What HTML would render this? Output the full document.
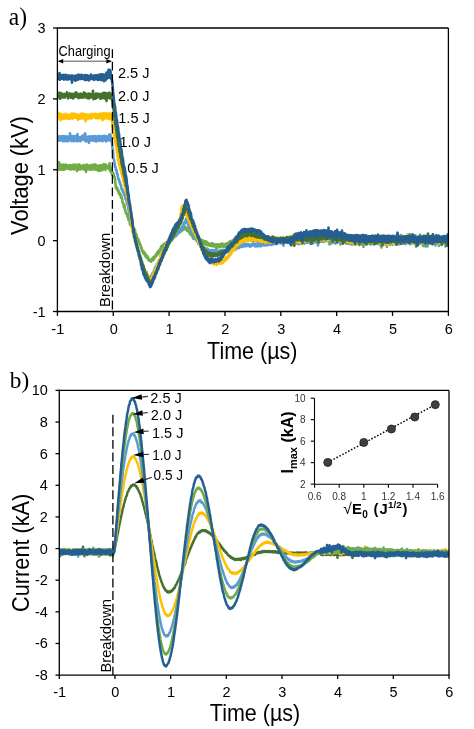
<!DOCTYPE html>
<html><head><meta charset="utf-8"><title>Figure</title>
<style>html,body{margin:0;padding:0;background:#fff;}body{width:474px;height:729px;overflow:hidden;position:relative;font-family:"Liberation Sans", sans-serif;}</style>
</head><body>
<svg width="474" height="729" viewBox="0 0 474 729" style="position:absolute;left:0;top:0;will-change:transform">
<rect width="474" height="729" fill="#fff"/>
<defs><clipPath id="ca"><rect x="57.4" y="28" width="391" height="283.5"/></clipPath>
<clipPath id="cb"><rect x="59.3" y="390.4" width="389.7" height="284.7"/></clipPath></defs>
<g clip-path="url(#ca)" fill="none" stroke-linejoin="round">
<path d="M57.5 164.42 L58 169.8 L58.5 165.08 L59 162.07 L59.5 169.62 L60 169.39 L60.5 164.49 L61 169.32 L61.5 169.69 L62 164.95 L62.5 169.42 L63 169.06 L63.5 164.53 L64 169.76 L64.5 168.9 L65 164.78 L65.5 168.86 L66 164.79 L66.5 168.48 L67 165.33 L67.5 168.77 L68 165.63 L68.5 168.61 L69 165.28 L69.5 168.84 L70 164.98 L70.5 169.59 L71 169.08 L71.5 165.58 L72 168.86 L72.5 167.46 L73 168.66 L73.5 164.61 L74 169.53 L74.5 164.89 L75 168.34 L75.5 165.72 L76 168.42 L76.5 164.83 L77 171.03 L77.5 165.5 L78 169.77 L78.5 164.44 L79 168.37 L79.5 164.65 L80 169.35 L80.5 165.84 L81 169.29 L81.5 165.7 L82 168.42 L82.5 168.76 L83 165.69 L83.5 165.01 L84 169.61 L84.5 165.83 L85 169.17 L85.5 165.15 L86 171.91 L86.5 165.59 L87 164.72 L87.5 169.32 L88 169.34 L88.5 168.66 L89 165.63 L89.5 169.44 L90 165.34 L90.5 169.6 L91 169.63 L91.5 165.78 L92 169.55 L92.5 164.72 L93 168.65 L93.5 164.56 L94 169.48 L94.5 164.89 L95 169.63 L95.5 164.42 L96 168.56 L96.5 165.73 L97 169.76 L97.5 165.51 L98 170.57 L98.5 166.02 L99 166.52 L99.5 171.06 L100 165.3 L100.5 169.88 L101 165.97 L101.5 170.2 L102 165.08 L102.5 170.11 L103 164.7 L103.5 166.17 L104 164.13 L104.5 168.56 L105 164.83 L105.5 169.91 L106 164.49 L106.5 167.13 L107 167.46 L107.5 166.1 L108 168.12 L108.5 168.68 L109 167.38 L109.5 163.27 L110 170.84 L110.5 167.22 L111 171.8 L111.5 171.81 L112 174.84 L112.5 172.08 L113 174.86 L113.5 173.6 L114 177.42 L114.5 176.69 L115 178.83 L115.5 184.1 L116 187.81 L116.5 188.84 L117 187.54 L117.5 188.31 L118 191.46 L118.5 190.45 L119 193.81 L119.5 192.46 L120 195.25 L120.5 194.1 L121 197.83 L121.5 196.25 L122 197.96 L122.5 202.4 L123 202.52 L123.5 204.45 L124 207.59 L124.5 205.36 L125 210.25 L125.5 210.39 L126 213.75 L126.5 212.89 L127 213.69 L127.5 217.06 L128 216.53 L128.5 219.93 L129 220.39 L129.5 219.83 L130 224.74 L130.5 221.83 L131 225.26 L131.5 223.2 L132 226.86 L132.5 225.01 L133 228.77 L133.5 229.45 L134 228.24 L134.5 231.1 L135 229.9 L135.5 233.9 L136 234.64 L136.5 234.24 L137 237.26 L137.5 238.16 L138 240.24 L138.5 239.41 L139 242.5 L139.5 242.17 L140 245.01 L140.5 244.75 L141 247.73 L141.5 247.34 L142 251.1 L142.5 250.09 L143 252.87 L143.5 251.32 L144 254.14 L144.5 252.55 L145 253.38 L145.5 256.51 L146 254.66 L146.5 255.22 L147 258.24 L147.5 256.51 L148 259.29 L148.5 258.13 L149 260.78 L149.5 259.62 L150 260.13 L150.5 260.22 L151 261.68 L151.5 259.41 L152 260.74 L152.5 258.38 L153 260.21 L153.5 257.03 L154 259.3 L154.5 256.48 L155 255.98 L155.5 257.29 L156 254.26 L156.5 255.81 L157 252.68 L157.5 254.45 L158 251.37 L158.5 253.82 L159 250.33 L159.5 251.72 L160 249.24 L160.5 249.77 L161 246.6 L161.5 248.85 L162 245.87 L162.5 245.95 L163 244.96 L163.5 247.26 L164 244.01 L164.5 246.12 L165 245.36 L165.5 242.91 L166 244.83 L166.5 242.63 L167 244.38 L167.5 241.68 L168 243.08 L168.5 242.84 L169 240.2 L169.5 242.17 L170 239.45 L170.5 241.03 L171 238.34 L171.5 240.26 L172 237.65 L172.5 239.26 L173 236.28 L173.5 237.97 L174 235.33 L174.5 234.94 L175 234.47 L175.5 236.48 L176 233.88 L176.5 235.39 L177 235.02 L177.5 232.19 L178 232.13 L178.5 233.19 L179 231.11 L179.5 232.7 L180 230.26 L180.5 231.32 L181 229.26 L181.5 231.18 L182 228.55 L182.5 228.27 L183 229.97 L183.5 226.51 L184 228.18 L184.5 226.37 L185 227.11 L185.5 229.39 L186 229.51 L186.5 227.48 L187 230.82 L187.5 228.59 L188 231.06 L188.5 229.65 L189 232.33 L189.5 231.63 L190 234.24 L190.5 232.11 L191 234.77 L191.5 233.53 L192 236.13 L192.5 235.03 L193 238.55 L193.5 236.02 L194 238.87 L194.5 236.73 L195 238.81 L195.5 239.18 L196 237.5 L196.5 240.09 L197 237.89 L197.5 240.78 L198 238.45 L198.5 240.6 L199 239.01 L199.5 239.01 L200 241.59 L200.5 239.6 L201 242.66 L201.5 239.74 L202 239.9 L202.5 243.44 L203 240.61 L203.5 243.1 L204 240.93 L204.5 244.08 L205 241.5 L205.5 244.72 L206 241.32 L206.5 244.42 L207 242.2 L207.5 245.25 L208 243.04 L208.5 245.49 L209 243.78 L209.5 243.79 L210 245.71 L210.5 243.94 L211 245.81 L211.5 243.43 L212 246.1 L212.5 243.19 L213 246.3 L213.5 244.33 L214 244.6 L214.5 246.43 L215 244.67 L215.5 246.59 L216 244.4 L216.5 249.44 L217 244.37 L217.5 244.95 L218 247.38 L218.5 244.27 L219 246.92 L219.5 244.98 L220 247.22 L220.5 246.3 L221 243.88 L221.5 246.52 L222 245.99 L222.5 243.5 L223 246.62 L223.5 244.72 L224 246.95 L224.5 244.76 L225 244.13 L225.5 246.84 L226 243.68 L226.5 243.6 L227 245.71 L227.5 243.38 L228 245.1 L228.5 245.36 L229 241.97 L229.5 244.24 L230 241.38 L230.5 241.66 L231 241.01 L231.5 243.37 L232 240.82 L232.5 243.06 L233 240.26 L233.5 242.87 L234 239.65 L234.5 241.99 L235 239.8 L235.5 242.19 L236 239.27 L236.5 241.26 L237 238.83 L237.5 240.84 L238 238.96 L238.5 241.04 L239 237.7 L239.5 238.4 L240 240.45 L240.5 235.39 L241 237.62 L241.5 240.49 L242 239.93 L242.5 237.36 L243 240.41 L243.5 238 L244 240.37 L244.5 237.64 L245 239.84 L245.5 239.92 L246 237.46 L246.5 240.28 L247 237.48 L247.5 240.63 L248 238.07 L248.5 240.1 L249 238 L249.5 239.78 L250 239.98 L250.5 237.66 L251 239.99 L251.5 237.57 L252 238.09 L252.5 240.97 L253 238.87 L253.5 240.78 L254 238.22 L254.5 240.52 L255 238.34 L255.5 240.87 L256 237.93 L256.5 240.99 L257 237.84 L257.5 241.11 L258 238.59 L258.5 241.37 L259 238.87 L259.5 237.86 L260 240.18 L260.5 237.86 L261 240.45 L261.5 238.21 L262 240.78 L262.5 238.89 L263 241.13 L263.5 238.62 L264 241.05 L264.5 238.58 L265 241.15 L265.5 238.72 L266 241.04 L266.5 238.65 L267 239.07 L267.5 242.15 L268 239.92 L268.5 240.77 L269 241.29 L269.5 241.44 L270 238.95 L270.5 238.97 L271 241.54 L271.5 238.82 L272 241.63 L272.5 238.96 L273 241.51 L273.5 239.5 L274 241.77 L274.5 239.94 L275 242.99 L275.5 239.83 L276 241.62 L276.5 239.79 L277 242.05 L277.5 239.28 L278 241.72 L278.5 242.49 L279 239.84 L279.5 242.03 L280 239.61 L280.5 242.65 L281 240.06 L281.5 241.94 L282 239.24 L282.5 243.8 L283 237.66 L283.5 242.47 L284 239.81 L284.5 242.42 L285 239.81 L285.5 239.42 L286 241.92 L286.5 239.37 L287 242.19 L287.5 240 L288 242.58 L288.5 242.5 L289 239.63 L289.5 241.57 L290 239.23 L290.5 243.25 L291 238.38 L291.5 242.7 L292 242.09 L292.5 238.74 L293 238.46 L293.5 242.43 L294 237.31 L294.5 245.59 L295 237.4 L295.5 240.99 L296 238.24 L296.5 242.43 L297 238.36 L297.5 242.65 L298 237.97 L298.5 243.26 L299 241.49 L299.5 237.71 L300 242.09 L300.5 237.46 L301 242.34 L301.5 239.86 L302 242.37 L302.5 242.9 L303 238.26 L303.5 241.49 L304 236.74 L304.5 241.88 L305 233.91 L305.5 240.54 L306 239.28 L306.5 241.22 L307 237.93 L307.5 241.48 L308 237.47 L308.5 241.65 L309 233.74 L309.5 240.13 L310 237.74 L310.5 242.39 L311 236.29 L311.5 242.02 L312 242.17 L312.5 237.57 L313 241.43 L313.5 236.52 L314 241.28 L314.5 235.88 L315 241.16 L315.5 235.84 L316 240.91 L316.5 236.49 L317 241.44 L317.5 238.09 L318 241.99 L318.5 242.82 L319 236.35 L319.5 240.48 L320 241 L320.5 241.45 L321 236.56 L321.5 241.09 L322 236.66 L322.5 240.65 L323 235.37 L323.5 240.04 L324 236.56 L324.5 241.39 L325 240.73 L325.5 240.76 L326 236.2 L326.5 240.03 L327 236.39 L327.5 239.69 L328 235.5 L328.5 240.67 L329 235.61 L329.5 244.51 L330 240.32 L330.5 235.72 L331 235.49 L331.5 243.47 L332 236.68 L332.5 236.81 L333 240.33 L333.5 236.42 L334 236.5 L334.5 240.71 L335 236.5 L335.5 241.08 L336 236.54 L336.5 241.72 L337 235.89 L337.5 241.58 L338 237.4 L338.5 241.64 L339 236.59 L339.5 241.61 L340 237.93 L340.5 244.26 L341 235.1 L341.5 239.76 L342 239.91 L342.5 235.24 L343 240.38 L343.5 236.16 L344 240.85 L344.5 236.29 L345 241.63 L345.5 236.12 L346 243.55 L346.5 238 L347 242.47 L347.5 238.71 L348 243.52 L348.5 238.8 L349 239 L349.5 236.14 L350 241.49 L350.5 237.79 L351 237.13 L351.5 244.39 L352 239.44 L352.5 244.33 L353 244.09 L353.5 239.32 L354 238.37 L354.5 242.48 L355 238.39 L355.5 242.13 L356 238.9 L356.5 243.71 L357 237.44 L357.5 242.96 L358 237.88 L358.5 243.49 L359 238.53 L359.5 245.1 L360 237.94 L360.5 243.49 L361 238.41 L361.5 243.58 L362 237.74 L362.5 242.11 L363 237.87 L363.5 246.84 L364 237.73 L364.5 243.96 L365 238.41 L365.5 243.29 L366 237.9 L366.5 242.41 L367 237.9 L367.5 241.08 L368 237.32 L368.5 242.27 L369 236.42 L369.5 243.39 L370 237.05 L370.5 244.45 L371 243.62 L371.5 244.06 L372 238.02 L372.5 242.81 L373 242.39 L373.5 238.75 L374 239.65 L374.5 239.16 L375 242.79 L375.5 243.43 L376 238.39 L376.5 243.1 L377 238.76 L377.5 240.32 L378 238.07 L378.5 243.8 L379 238.24 L379.5 243.58 L380 238.15 L380.5 245.79 L381 238.66 L381.5 247.48 L382 239.68 L382.5 242.17 L383 238.13 L383.5 243.86 L384 242.95 L384.5 238.92 L385 243.14 L385.5 238.08 L386 242.85 L386.5 238.4 L387 244.77 L387.5 236.86 L388 241.32 L388.5 242.63 L389 236.65 L389.5 244.48 L390 236.98 L390.5 244.66 L391 237.05 L391.5 243.18 L392 237.22 L392.5 243.48 L393 238.87 L393.5 243.74 L394 238.2 L394.5 242.28 L395 237.54 L395.5 237.8 L396 243.36 L396.5 243.5 L397 237.64 L397.5 242.49 L398 241.51 L398.5 239.06 L399 244.47 L399.5 239.48 L400 238.94 L400.5 243.36 L401 235.12 L401.5 243.76 L402 235.8 L402.5 243.08 L403 243.32 L403.5 239.29 L404 241.41 L404.5 242.57 L405 238.87 L405.5 243.6 L406 237.96 L406.5 239.3 L407 237.99 L407.5 242.73 L408 234.54 L408.5 242.92 L409 238.46 L409.5 242.04 L410 234.23 L410.5 241.4 L411 237.8 L411.5 242.83 L412 238.01 L412.5 238.84 L413 243.29 L413.5 238.22 L414 239.97 L414.5 235.56 L415 242.85 L415.5 237.88 L416 246.72 L416.5 239.38 L417 243.23 L417.5 239.02 L418 238.94 L418.5 244.16 L419 238.61 L419.5 242.89 L420 234.51 L420.5 241.6 L421 237.89 L421.5 243.21 L422 238.47 L422.5 238.75 L423 245.86 L423.5 238.35 L424 245.9 L424.5 237.97 L425 243.53 L425.5 238.76 L426 242.67 L426.5 246.01 L427 238.51 L427.5 246.48 L428 238.05 L428.5 243.37 L429 238.02 L429.5 238.3 L430 242.94 L430.5 238.82 L431 243.84 L431.5 242.98 L432 238.81 L432.5 243.57 L433 239.35 L433.5 242.47 L434 243.47 L434.5 243.17 L435 243.56 L435.5 239.27 L436 243.64 L436.5 238.82 L437 240.57 L437.5 239.19 L438 243.19 L438.5 237.81 L439 243.56 L439.5 236.8 L440 242.87 L440.5 238.26 L441 242.8 L441.5 242.51 L442 239.26 L442.5 242.48 L443 238.1 L443.5 243.16 L444 238.63 L444.5 242.14 L445 237.95 L445.5 242.89 L446 237.79 L446.5 242.73 L447 239.05 L447.5 243.97 L448 238.93 L448.5 238.32" stroke="#70AD47" stroke-width="2.6"/>
<path d="M57.5 137.36 L58 140.91 L58.5 136.58 L59 140.55 L59.5 136.01 L60 140.58 L60.5 137.44 L61 140.48 L61.5 136.65 L62 140.4 L62.5 136 L63 141.24 L63.5 136.31 L64 136.06 L64.5 140.98 L65 136.76 L65.5 141.15 L66 141.25 L66.5 136.12 L67 140.24 L67.5 137.24 L68 141.27 L68.5 140.96 L69 136.52 L69.5 140.13 L70 133.18 L70.5 139.97 L71 135.67 L71.5 141.14 L72 136.15 L72.5 140.45 L73 137.31 L73.5 141.28 L74 136.1 L74.5 141.09 L75 139.92 L75.5 136.37 L76 140.37 L76.5 137.42 L77 141.34 L77.5 133.96 L78 140.64 L78.5 140.42 L79 140.89 L79.5 140.91 L80 137.23 L80.5 141.28 L81 137.12 L81.5 140.3 L82 136.06 L82.5 139.17 L83 135.61 L83.5 139.15 L84 135.89 L84.5 140.24 L85 133.23 L85.5 135.82 L86 141.34 L86.5 136.46 L87 141.21 L87.5 137.19 L88 141.12 L88.5 136.8 L89 142.83 L89.5 136.36 L90 141.03 L90.5 137.3 L91 136.53 L91.5 139.95 L92 136.41 L92.5 140.59 L93 136.7 L93.5 136.29 L94 140.64 L94.5 136.48 L95 141.13 L95.5 136 L96 140.01 L96.5 141.38 L97 137.04 L97.5 140.69 L98 136.07 L98.5 140.68 L99 136.16 L99.5 140.85 L100 136.25 L100.5 140.19 L101 140.46 L101.5 136.55 L102 136.02 L102.5 141.3 L103 140.54 L103.5 136.09 L104 140.16 L104.5 135.71 L105 140.17 L105.5 136.19 L106 141.49 L106.5 136.23 L107 140.38 L107.5 136.81 L108 140.5 L108.5 138.33 L109 134.85 L109.5 140.28 L110 134.32 L110.5 135.21 L111 140.89 L111.5 140.1 L112 142.68 L112.5 148.14 L113 150.91 L113.5 158.26 L114 159.98 L114.5 162.25 L115 166.89 L115.5 166.56 L116 170.45 L116.5 169.75 L117 174.02 L117.5 173.77 L118 177.46 L118.5 179.34 L119 178.94 L119.5 182.69 L120 182.16 L120.5 185.31 L121 185.31 L121.5 188.76 L122 190.02 L122.5 189.27 L123 192.14 L123.5 191.75 L124 194.74 L124.5 194.19 L125 194.97 L125.5 199.1 L126 198.71 L126.5 200.79 L127 204.33 L127.5 204.34 L128 206.45 L128.5 210.13 L129 210.43 L129.5 215.45 L130 216.07 L130.5 220.79 L131 221.25 L131.5 225.58 L132 225.62 L132.5 230.16 L133 232.42 L133.5 232.61 L134 237.23 L134.5 236.87 L135 241.15 L135.5 240.91 L136 244.72 L136.5 244.82 L137 248.51 L137.5 248.62 L138 252.26 L138.5 251.91 L139 256 L139.5 255.3 L140 259.26 L140.5 258.24 L141 261.53 L141.5 261.24 L142 264.48 L142.5 264.01 L143 267.37 L143.5 266.6 L144 269.69 L144.5 268.71 L145 271.6 L145.5 272.29 L146 273.64 L146.5 271.78 L147 273.2 L147.5 276.21 L148 275.35 L148.5 278.38 L149 276.91 L149.5 279.93 L150 278.18 L150.5 276.52 L151 278.18 L151.5 274.7 L152 275.73 L152.5 272.94 L153 274.15 L153.5 273.39 L154 270.3 L154.5 271.12 L155 267.65 L155.5 269.26 L156 266.15 L156.5 266.96 L157 263.76 L157.5 264.89 L158 263.53 L158.5 262.53 L159 259.49 L159.5 260.31 L160 259.61 L160.5 256.2 L161 255.26 L161.5 255.16 L162 252.53 L162.5 253.56 L163 251.04 L163.5 252.27 L164 249.88 L164.5 250.86 L165 248 L165.5 249.57 L166 246.6 L166.5 247.99 L167 245.5 L167.5 247 L168 243.29 L168.5 244.67 L169 241.24 L169.5 242.99 L170 239.67 L170.5 241.58 L171 238.6 L171.5 238.54 L172 240.08 L172.5 238.85 L173 236.63 L173.5 237.93 L174 234.62 L174.5 234.37 L175 234.02 L175.5 235.62 L176 232.79 L176.5 234.28 L177 231.74 L177.5 233.65 L178 230.94 L178.5 231.6 L179 229.37 L179.5 231.33 L180 229.62 L180.5 231.32 L181 228.54 L181.5 229.92 L182 226.53 L182.5 228.19 L183 227.47 L183.5 223.69 L184 225.33 L184.5 221.78 L185 223.09 L185.5 222.15 L186 218.68 L186.5 222.23 L187 220.95 L187.5 222.03 L188 224.82 L188.5 224.26 L189 227.43 L189.5 225.61 L190 228.41 L190.5 227.72 L191 230.95 L191.5 230 L192 233.3 L192.5 232.02 L193 235.34 L193.5 233.59 L194 235.04 L194.5 238.01 L195 236.98 L195.5 239.18 L196 237.95 L196.5 240.34 L197 239.57 L197.5 241.88 L198 240.85 L198.5 244.07 L199 241.8 L199.5 243.07 L200 245.14 L200.5 243.49 L201 247.2 L201.5 245 L202 247.88 L202.5 246.42 L203 249.52 L203.5 247.34 L204 249.38 L204.5 250.43 L205 247.91 L205.5 250.2 L206 248.72 L206.5 251.32 L207 248.54 L207.5 251.46 L208 249.15 L208.5 252.28 L209 249.95 L209.5 249.98 L210 250.2 L210.5 252.61 L211 250.39 L211.5 253.14 L212 253 L212.5 250 L213 253.09 L213.5 250.24 L214 253.02 L214.5 252.58 L215 252.1 L215.5 249.85 L216 252.57 L216.5 250.02 L217 252.23 L217.5 251.06 L218 254.42 L218.5 251.14 L219 253.44 L219.5 250.88 L220 253.05 L220.5 252.74 L221 250.05 L221.5 252.7 L222 250 L222.5 252.85 L223 250.07 L223.5 249.75 L224 252.28 L224.5 250.32 L225 252.01 L225.5 249.93 L226 249.95 L226.5 251.75 L227 249.45 L227.5 251.92 L228 249.11 L228.5 249.11 L229 251.39 L229.5 251.53 L230 248.88 L230.5 248.46 L231 250.83 L231.5 248.14 L232 250.42 L232.5 248 L233 250.65 L233.5 247.18 L234 249.51 L234.5 246.96 L235 249.85 L235.5 246.89 L236 249.26 L236.5 245.02 L237 247.89 L237.5 245.36 L238 248.07 L238.5 245.66 L239 247.89 L239.5 242.76 L240 247.23 L240.5 247.01 L241 244.9 L241.5 246.78 L242 244.31 L242.5 246.94 L243 246.1 L243.5 243.94 L244 246.1 L244.5 243.63 L245 246.37 L245.5 244.11 L246 246.21 L246.5 243.88 L247 245.95 L247.5 244.11 L248 244.81 L248.5 244.18 L249 245.97 L249.5 244.21 L250 246.64 L250.5 245.79 L251 245.95 L251.5 246.03 L252 245.87 L252.5 243.68 L253 243.38 L253.5 243.49 L254 244.33 L254.5 244.17 L255 246.47 L255.5 244.05 L256 243.98 L256.5 243.83 L257 246.47 L257.5 243.47 L258 245.99 L258.5 243.36 L259 243.18 L259.5 246.22 L260 243.34 L260.5 245.58 L261 246.19 L261.5 243.04 L262 245.42 L262.5 243.18 L263 245.19 L263.5 243.29 L264 243.2 L264.5 245.38 L265 242.93 L265.5 243.19 L266 244.96 L266.5 242.29 L267 245.52 L267.5 242.64 L268 244.98 L268.5 242.45 L269 244.5 L269.5 242.23 L270 244.51 L270.5 242.02 L271 244.96 L271.5 241.9 L272 243.96 L272.5 241.75 L273 244.49 L273.5 241.5 L274 243.85 L274.5 241.7 L275 243.91 L275.5 241.87 L276 244.03 L276.5 241.34 L277 241.4 L277.5 243.27 L278 240.63 L278.5 241.12 L279 243.01 L279.5 240.43 L280 243.22 L280.5 240.96 L281 243.12 L281.5 240.23 L282 243.03 L282.5 241.03 L283 243.41 L283.5 245.64 L284 240.64 L284.5 242.62 L285 240.32 L285.5 242.78 L286 240.53 L286.5 240.47 L287 240.86 L287.5 242.92 L288 240.81 L288.5 242.45 L289 239.87 L289.5 242.68 L290 240.31 L290.5 244.35 L291 238.58 L291.5 243.28 L292 239.48 L292.5 238.2 L293 243.23 L293.5 238.27 L294 238.56 L294.5 242.87 L295 238.63 L295.5 242.56 L296 238.55 L296.5 243.52 L297 238.93 L297.5 243.27 L298 239.09 L298.5 244.1 L299 238.04 L299.5 243.12 L300 237.98 L300.5 243.88 L301 239.47 L301.5 243.47 L302 239.41 L302.5 239.27 L303 242.56 L303.5 238.6 L304 239.28 L304.5 243.76 L305 237.92 L305.5 242.28 L306 240.54 L306.5 242.36 L307 237.85 L307.5 242.92 L308 238.65 L308.5 242.37 L309 238.07 L309.5 241.85 L310 238.46 L310.5 243.95 L311 238.67 L311.5 243.22 L312 238.12 L312.5 243.32 L313 243.29 L313.5 237.78 L314 242.73 L314.5 237.97 L315 242 L315.5 237.25 L316 242.1 L316.5 237.06 L317 242.61 L317.5 240.36 L318 245.4 L318.5 237.34 L319 238.04 L319.5 235.67 L320 241.84 L320.5 240.5 L321 236.22 L321.5 239.03 L322 237.68 L322.5 241.37 L323 242.04 L323.5 237.15 L324 241.61 L324.5 236.84 L325 236.42 L325.5 240.78 L326 235.5 L326.5 237.16 L327 241.09 L327.5 236.3 L328 241.25 L328.5 236.51 L329 239.7 L329.5 236.25 L330 241.44 L330.5 235.86 L331 237.52 L331.5 240.6 L332 237.23 L332.5 242.14 L333 237.47 L333.5 242.44 L334 242.91 L334.5 240.27 L335 242.11 L335.5 243.6 L336 236.73 L336.5 241.26 L337 237.77 L337.5 242.4 L338 237.86 L338.5 242.26 L339 236.88 L339.5 241.81 L340 237.61 L340.5 244.09 L341 237.03 L341.5 242.1 L342 237.94 L342.5 242.37 L343 237.53 L343.5 238.2 L344 242.23 L344.5 238.61 L345 242.34 L345.5 238.23 L346 242.19 L346.5 238.52 L347 242.1 L347.5 243.24 L348 238.25 L348.5 243.68 L349 237.58 L349.5 238.27 L350 243.94 L350.5 243.04 L351 238.67 L351.5 243.21 L352 239.55 L352.5 242.87 L353 237.97 L353.5 238.48 L354 243.99 L354.5 238.54 L355 238.21 L355.5 244.81 L356 239.48 L356.5 244.04 L357 243.77 L357.5 239.17 L358 243.57 L358.5 238.08 L359 243.95 L359.5 238.17 L360 243.2 L360.5 241.08 L361 244.61 L361.5 239.57 L362 238.22 L362.5 244.27 L363 239.03 L363.5 242.79 L364 238.11 L364.5 242.78 L365 239.42 L365.5 244 L366 240.14 L366.5 242.74 L367 238.04 L367.5 238.23 L368 243.46 L368.5 240.52 L369 237.86 L369.5 243.8 L370 238.46 L370.5 243.22 L371 243.26 L371.5 238.42 L372 243.88 L372.5 238.46 L373 239.96 L373.5 239.31 L374 244.71 L374.5 239.14 L375 238.19 L375.5 243.14 L376 239.25 L376.5 242.8 L377 243.61 L377.5 240.12 L378 244.05 L378.5 240.05 L379 239.12 L379.5 238.55 L380 241.32 L380.5 239.42 L381 244.19 L381.5 238.2 L382 243.9 L382.5 239.24 L383 243.03 L383.5 242.65 L384 239.13 L384.5 244.59 L385 239.7 L385.5 244.19 L386 240.51 L386.5 239.39 L387 246.94 L387.5 240.04 L388 242.38 L388.5 243.71 L389 241.32 L389.5 243.92 L390 237.96 L390.5 238.63 L391 242.87 L391.5 238.7 L392 239.54 L392.5 239.48 L393 244.76 L393.5 237.85 L394 238.15 L394.5 241.97 L395 237.61 L395.5 241.53 L396 238.93 L396.5 243.85 L397 243.93 L397.5 242.91 L398 238.04 L398.5 243.64 L399 238.97 L399.5 238.92 L400 243 L400.5 239.2 L401 236.26 L401.5 243.48 L402 239.19 L402.5 237.98 L403 242.88 L403.5 239.33 L404 243.76 L404.5 238.52 L405 243.52 L405.5 244.08 L406 238.44 L406.5 242.85 L407 238.05 L407.5 242.98 L408 239.09 L408.5 241.85 L409 238.87 L409.5 238.76 L410 244.13 L410.5 236.61 L411 243.9 L411.5 243.09 L412 237.89 L412.5 242.63 L413 238.85 L413.5 242.7 L414 242.78 L414.5 238.63 L415 243.37 L415.5 235.32 L416 243.12 L416.5 239.16 L417 243.5 L417.5 237.8 L418 245.42 L418.5 236.77 L419 238.84 L419.5 242.61 L420 239.03 L420.5 243.76 L421 238.75 L421.5 243.34 L422 242.69 L422.5 242.58 L423 238.35 L423.5 242.75 L424 237.73 L424.5 244.16 L425 240.06 L425.5 246.4 L426 238.81 L426.5 245.17 L427 243.88 L427.5 239.35 L428 244.19 L428.5 240.95 L429 243.57 L429.5 239.36 L430 238.56 L430.5 242.64 L431 238.93 L431.5 242.58 L432 239.47 L432.5 242.81 L433 243.06 L433.5 238.82 L434 239.95 L434.5 238.7 L435 239.05 L435.5 245.35 L436 235.03 L436.5 243.22 L437 239.42 L437.5 241.28 L438 239.83 L438.5 243.53 L439 246.01 L439.5 236.47 L440 244.33 L440.5 240.11 L441 242.04 L441.5 244.98 L442 239.35 L442.5 242.67 L443 238.52 L443.5 243.68 L444 239.01 L444.5 242.59 L445 241.77 L445.5 246.51 L446 243.78 L446.5 238.69 L447 243.88 L447.5 238.52 L448 244.58 L448.5 243.3" stroke="#5B9BD5" stroke-width="2.6"/>
<path d="M57.5 113.36 L58 117.96 L58.5 112.81 L59 117.74 L59.5 118.29 L60 114.99 L60.5 120.17 L61 113.78 L61.5 114.5 L62 118.9 L62.5 114.88 L63 117.96 L63.5 114.56 L64 118.86 L64.5 118.79 L65 114.84 L65.5 113.74 L66 117.83 L66.5 114.66 L67 118.7 L67.5 114.65 L68 115.02 L68.5 118.58 L69 118.97 L69.5 117.97 L70 115.04 L70.5 118.42 L71 113.8 L71.5 113.75 L72 118.29 L72.5 114.25 L73 118.58 L73.5 113.63 L74 117.53 L74.5 115.06 L75 117.6 L75.5 114.08 L76 115.68 L76.5 114.54 L77 118.41 L77.5 114.72 L78 119.76 L78.5 115.14 L79 118.8 L79.5 115.74 L80 118.72 L80.5 113.98 L81 117.92 L81.5 113.66 L82 118.37 L82.5 113.86 L83 118.39 L83.5 113.82 L84 117.95 L84.5 114.47 L85 118.27 L85.5 121.34 L86 114.31 L86.5 117.85 L87 114.66 L87.5 118.86 L88 118.85 L88.5 115.07 L89 117.96 L89.5 114.47 L90 118.02 L90.5 114.56 L91 118.73 L91.5 113.72 L92 117.53 L92.5 117.59 L93 114.3 L93.5 116.01 L94 115.01 L94.5 116.95 L95 113.71 L95.5 118.18 L96 114.28 L96.5 118.2 L97 114.14 L97.5 115.01 L98 117.98 L98.5 115.06 L99 118.39 L99.5 117.38 L100 113.47 L100.5 117.96 L101 113.69 L101.5 117.92 L102 114.61 L102.5 120.26 L103 113.38 L103.5 118.93 L104 118.76 L104.5 113.51 L105 117.93 L105.5 117.85 L106 113.4 L106.5 118.18 L107 114.16 L107.5 117.89 L108 118.47 L108.5 113.64 L109 118.65 L109.5 113.28 L110 119.06 L110.5 114.08 L111 118.9 L111.5 119.82 L112 118.22 L112.5 125.59 L113 127.7 L113.5 132.99 L114 133.35 L114.5 139.02 L115 138.12 L115.5 143.39 L116 144.42 L116.5 147.9 L117 152.73 L117.5 154.24 L118 160.03 L118.5 159.76 L119 164.15 L119.5 163.92 L120 167.6 L120.5 169.62 L121 169.6 L121.5 173.78 L122 172.8 L122.5 177.42 L123 176.97 L123.5 181.65 L124 181.72 L124.5 185.91 L125 186.37 L125.5 187.9 L126 191.96 L126.5 191.85 L127 195.73 L127.5 196.56 L128 201.76 L128.5 202.17 L129 206.68 L129.5 207.1 L130 211.86 L130.5 213.84 L131 220.22 L131.5 222.88 L132 229.39 L132.5 229.16 L133 233.55 L133.5 232.74 L134 237.21 L134.5 236.52 L135 241.27 L135.5 239.01 L136 244.72 L136.5 244.35 L137 248.91 L137.5 248 L138 252.19 L138.5 251.99 L139 256.98 L139.5 258.27 L140 257.06 L140.5 258.76 L141 261.34 L141.5 260.91 L142 264.42 L142.5 263.74 L143 267.02 L143.5 266.49 L144 269.68 L144.5 269.29 L145 272.01 L145.5 271.44 L146 274.15 L146.5 273.72 L147 276.51 L147.5 275.11 L148 278.73 L148.5 277.79 L149 281.11 L149.5 279.86 L150 282.88 L150.5 279.72 L151 281.07 L151.5 278.07 L152 277.9 L152.5 274.57 L153 275.97 L153.5 272.83 L154 272.51 L154.5 273.38 L155 270.16 L155.5 269.09 L156 269.83 L156.5 266.71 L157 267.85 L157.5 263.82 L158 265.3 L158.5 261.5 L159 262.67 L159.5 259.07 L160 260.39 L160.5 256.43 L161 257.43 L161.5 254.4 L162 252.55 L162.5 252.23 L163 251.66 L163.5 252.66 L164 249.26 L164.5 248.84 L165 248.76 L165.5 245.1 L166 246.57 L166.5 243.04 L167 245.06 L167.5 242.04 L168 243.13 L168.5 239.79 L169 240.96 L169.5 237.97 L170 238.26 L170.5 235.51 L171 234.75 L171.5 235.91 L172 235.13 L172.5 231.96 L173 233.6 L173.5 230.66 L174 231.49 L174.5 229.16 L175 230.32 L175.5 229.63 L176 226.47 L176.5 228.25 L177 224.34 L177.5 225.5 L178 222.72 L178.5 223.19 L179 219.94 L179.5 218.8 L180 221.73 L180.5 214.78 L181 214 L181.5 209.17 L182 206.01 L182.5 206.98 L183 205.8 L183.5 207.88 L184 207.99 L184.5 209.36 L185 213.1 L185.5 211.76 L186 215.01 L186.5 213.66 L187 215.2 L187.5 218.01 L188 216.56 L188.5 220.15 L189 219.09 L189.5 222.11 L190 223.72 L190.5 221.94 L191 225.86 L191.5 224.17 L192 228.37 L192.5 229.56 L193 228.35 L193.5 231.48 L194 232.45 L194.5 233.36 L195 232.58 L195.5 235.3 L196 234.54 L196.5 237.7 L197 236.87 L197.5 239.7 L198 239.15 L198.5 242.02 L199 241.63 L199.5 245.05 L200 244.01 L200.5 247.28 L201 245.64 L201.5 249.66 L202 248.45 L202.5 251.15 L203 252.96 L203.5 253.75 L204 252.05 L204.5 251.29 L205 253.79 L205.5 256.85 L206 255.9 L206.5 258.84 L207 257.3 L207.5 257.56 L208 261.03 L208.5 257.92 L209 261 L209.5 258.97 L210 261.6 L210.5 259.79 L211 262.27 L211.5 260.67 L212 262.94 L212.5 260.8 L213 263.86 L213.5 264.27 L214 262.06 L214.5 264.23 L215 261.34 L215.5 263.77 L216 261.87 L216.5 264.98 L217 261.78 L217.5 264.03 L218 261.02 L218.5 263.55 L219 260.46 L219.5 260.93 L220 263.35 L220.5 261.36 L221 263.73 L221.5 260.7 L222 263.25 L222.5 260.59 L223 262.7 L223.5 259.56 L224 261.63 L224.5 258.61 L225 260.56 L225.5 257.64 L226 260.11 L226.5 257.02 L227 258.7 L227.5 256.36 L228 258 L228.5 254.87 L229 256.6 L229.5 254.12 L230 255.21 L230.5 252.64 L231 254.4 L231.5 250.78 L232 252.55 L232.5 249.55 L233 251.05 L233.5 248.21 L234 249.97 L234.5 246.59 L235 248.95 L235.5 245.6 L236 246.63 L236.5 244.02 L237 245.82 L237.5 245.71 L238 245.23 L238.5 241.78 L239 243.76 L239.5 240.86 L240 242.89 L240.5 240.53 L241 243.16 L241.5 240.37 L242 242.14 L242.5 239.14 L243 241.21 L243.5 238.95 L244 241.03 L244.5 238.47 L245 240.83 L245.5 238.71 L246 238.86 L246.5 238.63 L247 240.56 L247.5 237.93 L248 238.41 L248.5 240.84 L249 238.46 L249.5 238.55 L250 240.18 L250.5 237.93 L251 240.69 L251.5 240.39 L252 237.59 L252.5 240.24 L253 237.64 L253.5 239.97 L254 238.23 L254.5 240.29 L255 237.61 L255.5 240.63 L256 238.1 L256.5 240.38 L257 238.59 L257.5 238.02 L258 238.99 L258.5 238.78 L259 241 L259.5 240.56 L260 241.6 L260.5 240.96 L261 238.58 L261.5 241.44 L262 241.92 L262.5 239.31 L263 241.71 L263.5 239.72 L264 240.28 L264.5 239.93 L265 242.46 L265.5 240.16 L266 240.79 L266.5 242.44 L267 239.65 L267.5 242.24 L268 240.17 L268.5 239.84 L269 242.13 L269.5 240.21 L270 242.01 L270.5 239.9 L271 242.66 L271.5 239.92 L272 242.31 L272.5 238.78 L273 241.56 L273.5 238.87 L274 239.87 L274.5 242.59 L275 239.85 L275.5 242.14 L276 239.71 L276.5 241.82 L277 240.21 L277.5 242.66 L278 240.13 L278.5 242.62 L279 239.84 L279.5 242.41 L280 239.65 L280.5 242.28 L281 239.72 L281.5 241.95 L282 242.08 L282.5 239.71 L283 241.96 L283.5 239.63 L284 241.9 L284.5 239.5 L285 242.09 L285.5 239.65 L286 242 L286.5 239.69 L287 242.19 L287.5 241.54 L288 239.08 L288.5 239.31 L289 241.27 L289.5 239.96 L290 242.17 L290.5 239.25 L291 243.08 L291.5 237.77 L292 245.27 L292.5 238.27 L293 242.17 L293.5 234.18 L294 242.18 L294.5 239.35 L295 242.2 L295.5 238.27 L296 238.69 L296.5 237.89 L297 241.94 L297.5 237.71 L298 242.18 L298.5 242.12 L299 237.27 L299.5 242.72 L300 240.94 L300.5 235.94 L301 241.29 L301.5 236.87 L302 243.85 L302.5 236.68 L303 242.38 L303.5 239.23 L304 240.62 L304.5 235.95 L305 241.6 L305.5 235.5 L306 234.9 L306.5 235.67 L307 234.99 L307.5 239.15 L308 238.29 L308.5 239.68 L309 236.99 L309.5 238.84 L310 237.59 L310.5 237.75 L311 235.82 L311.5 241.05 L312 235.96 L312.5 240.42 L313 235.55 L313.5 241.16 L314 236.61 L314.5 240.69 L315 236.42 L315.5 234.87 L316 235.88 L316.5 239.75 L317 239.72 L317.5 235.17 L318 239.88 L318.5 234.32 L319 233.74 L319.5 233.7 L320 239.57 L320.5 235.04 L321 240.05 L321.5 235.59 L322 239.64 L322.5 234.93 L323 240.63 L323.5 235.5 L324 240.29 L324.5 233.89 L325 239.1 L325.5 233.85 L326 238.73 L326.5 235.49 L327 236.46 L327.5 240.79 L328 236.67 L328.5 239.64 L329 234.19 L329.5 233.01 L330 236.54 L330.5 235.02 L331 239.6 L331.5 235.05 L332 235.83 L332.5 240.18 L333 234.62 L333.5 234.59 L334 239.72 L334.5 234.94 L335 240.59 L335.5 236.16 L336 235.5 L336.5 240.46 L337 239.5 L337.5 236.46 L338 236.29 L338.5 241.07 L339 240.9 L339.5 234.18 L340 240.52 L340.5 235.93 L341 241.49 L341.5 236.3 L342 237.42 L342.5 240.88 L343 241.63 L343.5 236.72 L344 240.54 L344.5 237.43 L345 240.61 L345.5 237.18 L346 236.63 L346.5 241.95 L347 237.6 L347.5 240.79 L348 236.56 L348.5 241.14 L349 236.49 L349.5 242.3 L350 237.26 L350.5 242.84 L351 238.17 L351.5 240.39 L352 237.26 L352.5 242.75 L353 237.85 L353.5 238.43 L354 244.82 L354.5 235.21 L355 242.98 L355.5 238.21 L356 243 L356.5 238.07 L357 239.97 L357.5 242.13 L358 240.86 L358.5 242.94 L359 238.4 L359.5 237.3 L360 244.73 L360.5 238.24 L361 238.54 L361.5 238.46 L362 241.61 L362.5 237.12 L363 237.04 L363.5 241.77 L364 236.31 L364.5 242.29 L365 236.96 L365.5 241.82 L366 237.06 L366.5 239.58 L367 238.33 L367.5 238.41 L368 242.44 L368.5 238.31 L369 237.66 L369.5 238.3 L370 243 L370.5 236.93 L371 242.67 L371.5 239.64 L372 239.58 L372.5 239.08 L373 243.33 L373.5 238.33 L374 242.4 L374.5 238.33 L375 241.75 L375.5 237.49 L376 242.15 L376.5 237.08 L377 238.38 L377.5 241.83 L378 237.75 L378.5 242.14 L379 242.8 L379.5 238.22 L380 243.04 L380.5 239.68 L381 243.52 L381.5 238.22 L382 243.69 L382.5 239.3 L383 242.05 L383.5 235.2 L384 245.17 L384.5 242.96 L385 237.84 L385.5 241.99 L386 237.68 L386.5 241.66 L387 238.14 L387.5 244.92 L388 239.7 L388.5 238.58 L389 242.49 L389.5 238.13 L390 243.38 L390.5 242.48 L391 237.01 L391.5 241.34 L392 238.3 L392.5 243.68 L393 239.66 L393.5 244 L394 241.1 L394.5 239.59 L395 244.12 L395.5 238.71 L396 243.01 L396.5 238.32 L397 242.23 L397.5 237.42 L398 242.81 L398.5 238.16 L399 237.2 L399.5 242.32 L400 241.21 L400.5 237.89 L401 238.18 L401.5 240.06 L402 237.89 L402.5 242.26 L403 237.29 L403.5 241.77 L404 236.46 L404.5 242.05 L405 241.94 L405.5 242.18 L406 237.46 L406.5 241.94 L407 235.03 L407.5 242.15 L408 238.07 L408.5 237.67 L409 241.93 L409.5 237.75 L410 241.95 L410.5 242.94 L411 243 L411.5 242.59 L412 237.93 L412.5 243.46 L413 237.35 L413.5 242 L414 238.69 L414.5 242.2 L415 237.89 L415.5 243.07 L416 238.62 L416.5 242.7 L417 238.21 L417.5 238.8 L418 242.65 L418.5 238.26 L419 237.34 L419.5 243.47 L420 238.64 L420.5 242.91 L421 238.95 L421.5 239.15 L422 243.52 L422.5 238.05 L423 241.94 L423.5 241.99 L424 237.18 L424.5 242.19 L425 243.24 L425.5 237.57 L426 242.33 L426.5 240.67 L427 242.47 L427.5 237.94 L428 239.49 L428.5 237.37 L429 243.24 L429.5 239.9 L430 243.27 L430.5 237.96 L431 242.92 L431.5 237.28 L432 243.43 L432.5 234.81 L433 242.04 L433.5 238.15 L434 238.35 L434.5 242.45 L435 238.09 L435.5 242.68 L436 242.53 L436.5 237.67 L437 238.54 L437.5 242.31 L438 238.53 L438.5 243.58 L439 238.12 L439.5 243.5 L440 238.19 L440.5 243.26 L441 242.29 L441.5 239.94 L442 242.97 L442.5 238.61 L443 243.41 L443.5 238.54 L444 243.58 L444.5 238.54 L445 242.99 L445.5 238.87 L446 243.07 L446.5 239.87 L447 243.62 L447.5 239.57 L448 242.94 L448.5 238.58" stroke="#FFC000" stroke-width="2.6"/>
<path d="M57.5 96.35 L58 96.54 L58.5 93.53 L59 97.59 L59.5 92.6 L60 98.81 L60.5 94.68 L61 97.46 L61.5 93.27 L62 97.63 L62.5 94.35 L63 97.08 L63.5 94.17 L64 97.52 L64.5 93.97 L65 97.43 L65.5 94.11 L66 94.44 L66.5 95.9 L67 92.37 L67.5 93.76 L68 98.42 L68.5 94.15 L69 97.22 L69.5 95.32 L70 93.39 L70.5 97.67 L71 97.18 L71.5 93.7 L72 97.83 L72.5 94.53 L73 98.5 L73.5 93.73 L74 97.54 L74.5 93.74 L75 96.6 L75.5 96.68 L76 92.36 L76.5 92.72 L77 96.85 L77.5 94.15 L78 94.12 L78.5 98.21 L79 94 L79.5 94.17 L80 97.6 L80.5 94.18 L81 93.56 L81.5 97.61 L82 94.27 L82.5 97.4 L83 94.02 L83.5 97.43 L84 92.43 L84.5 97.25 L85 94.52 L85.5 93.24 L86 97.13 L86.5 94.28 L87 98.14 L87.5 94.47 L88 97.56 L88.5 93.65 L89 98.4 L89.5 93.76 L90 98.06 L90.5 97.4 L91 94.33 L91.5 97.18 L92 93.8 L92.5 97.45 L93 90.89 L93.5 99.21 L94 94.47 L94.5 98.7 L95 94.74 L95.5 98.74 L96 93.58 L96.5 97.97 L97 94.03 L97.5 93.69 L98 97.15 L98.5 94.44 L99 94.47 L99.5 94.06 L100 93.97 L100.5 98.74 L101 97.66 L101.5 93.71 L102 98.17 L102.5 93.47 L103 98.01 L103.5 92.78 L104 95.01 L104.5 98.35 L105 92.76 L105.5 98.37 L106 94.24 L106.5 101.05 L107 93.4 L107.5 98.16 L108 94.3 L108.5 97.35 L109 92.79 L109.5 92.81 L110 98.46 L110.5 93.48 L111 97.61 L111.5 95.87 L112 99.24 L112.5 101.26 L113 106.81 L113.5 108.02 L114 116.27 L114.5 117.31 L115 123.87 L115.5 125.49 L116 129.07 L116.5 131.83 L117 136.89 L117.5 138.07 L118 142.95 L118.5 146.41 L119 146.75 L119.5 152.49 L120 152.74 L120.5 157.84 L121 158.58 L121.5 163.91 L122 164.18 L122.5 167.46 L123 168.86 L123.5 173.1 L124 175.77 L124.5 175.92 L125 180.62 L125.5 181.49 L126 186.18 L126.5 186.43 L127 189.56 L127.5 194.19 L128 194.82 L128.5 200.18 L129 203.32 L129.5 204.15 L130 208.04 L130.5 209.63 L131 213.08 L131.5 218.76 L132 219.84 L132.5 225.31 L133 226.63 L133.5 232.15 L134 232.51 L134.5 237.36 L135 236.32 L135.5 241.07 L136 240.81 L136.5 244.62 L137 244.03 L137.5 248.1 L138 248.05 L138.5 252.06 L139 251.55 L139.5 256.07 L140 255.33 L140.5 258.46 L141 258.33 L141.5 261.97 L142 261.71 L142.5 265.36 L143 264.75 L143.5 266.18 L144 269.66 L144.5 269.25 L145 273.04 L145.5 272.47 L146 275.4 L146.5 274.31 L147 275.28 L147.5 279.03 L148 277.7 L148.5 281.05 L149 279.96 L149.5 283.99 L150 282.37 L150.5 286.12 L151 282.78 L151.5 283.76 L152 280.07 L152.5 282.48 L153 278.49 L153.5 277.17 L154 278.36 L154.5 277.97 L155 273.89 L155.5 274.28 L156 271.58 L156.5 272.62 L157 271.1 L157.5 268.05 L158 268.86 L158.5 265.79 L159 266.65 L159.5 263.11 L160 264.48 L160.5 261.14 L161 259.78 L161.5 260.67 L162 259.14 L162.5 256.05 L163 257.38 L163.5 254.06 L164 254.69 L164.5 253.72 L165 250.26 L165.5 251.47 L166 248.36 L166.5 249.96 L167 246.47 L167.5 247.37 L168 245.64 L168.5 242.94 L169 243.69 L169.5 242.5 L170 240.15 L170.5 240.86 L171 237.87 L171.5 239.48 L172 235.9 L172.5 235.06 L173 236.77 L173.5 233.4 L174 234.62 L174.5 233.94 L175 231.01 L175.5 229.95 L176 231.37 L176.5 229.88 L177 227.34 L177.5 228.39 L178 225.53 L178.5 227.33 L179 226.49 L179.5 223.1 L180 222.31 L180.5 223.99 L181 222.31 L181.5 221.37 L182 218.05 L182.5 218.83 L183 215.23 L183.5 215.57 L184 212.19 L184.5 212.96 L185 209.11 L185.5 209.8 L186 205.75 L186.5 208.89 L187 210.06 L187.5 209.24 L188 212.64 L188.5 211.57 L189 215.95 L189.5 215.18 L190 218.74 L190.5 219.7 L191 219.1 L191.5 220.56 L192 223.65 L192.5 222.63 L193 226.18 L193.5 227.32 L194 226.66 L194.5 229.71 L195 228.49 L195.5 232.16 L196 232.88 L196.5 232.59 L197 233.64 L197.5 237.28 L198 235.69 L198.5 238.95 L199 237.25 L199.5 240.99 L200 240.66 L200.5 243.41 L201 242.42 L201.5 246.08 L202 244.78 L202.5 249.83 L203 246.88 L203.5 249.95 L204 248 L204.5 250.82 L205 249.6 L205.5 252.6 L206 250.59 L206.5 253.08 L207 251.64 L207.5 254.51 L208 253.11 L208.5 255.69 L209 252.62 L209.5 255.09 L210 252.76 L210.5 255.85 L211 253.35 L211.5 253.67 L212 256.18 L212.5 253.67 L213 256.13 L213.5 256.22 L214 253.32 L214.5 255.6 L215 253.75 L215.5 256.1 L216 253.7 L216.5 253.79 L217 255.75 L217.5 255.36 L218 253.22 L218.5 255.42 L219 252.5 L219.5 254.73 L220 251.89 L220.5 254.78 L221 251.78 L221.5 254.27 L222 254.4 L222.5 251.19 L223 253.52 L223.5 253.69 L224 253 L224.5 250.7 L225 252.79 L225.5 250.39 L226 251.96 L226.5 249.57 L227 251.6 L227.5 247.47 L228 247 L228.5 246.86 L229 249.17 L229.5 245.75 L230 247.9 L230.5 244.68 L231 246.95 L231.5 244.38 L232 246.55 L232.5 244.07 L233 245.93 L233.5 243.04 L234 242.07 L234.5 241.69 L235 243.02 L235.5 240.63 L236 242 L236.5 239.25 L237 242.34 L237.5 238.18 L238 240.52 L238.5 237.29 L239 239.07 L239.5 236.12 L240 238.7 L240.5 236.06 L241 237.97 L241.5 235.59 L242 237.71 L242.5 234.26 L243 237.09 L243.5 233.69 L244 233.74 L244.5 236.09 L245 233.38 L245.5 233.9 L246 235.63 L246.5 232.82 L247 236.12 L247.5 233.65 L248 235.82 L248.5 233.23 L249 233.07 L249.5 233.76 L250 232.3 L250.5 235.33 L251 233.46 L251.5 235.93 L252 232.87 L252.5 235.66 L253 233.85 L253.5 235.96 L254 235.64 L254.5 233.99 L255 236.83 L255.5 234.24 L256 236.56 L256.5 234.16 L257 237.35 L257.5 234.52 L258 234.55 L258.5 234.95 L259 237.7 L259.5 234.87 L260 237.38 L260.5 235.55 L261 238.03 L261.5 236.04 L262 237.99 L262.5 235.75 L263 236.82 L263.5 238.41 L264 237.05 L264.5 239.45 L265 236.87 L265.5 239.41 L266 238.92 L266.5 238.75 L267 239.13 L267.5 236.34 L268 239.62 L268.5 236.43 L269 239.06 L269.5 237.1 L270 240.33 L270.5 238.05 L271 240.57 L271.5 238.84 L272 239.45 L272.5 236.47 L273 239.47 L273.5 239.97 L274 237.17 L274.5 240.14 L275 237.98 L275.5 237.84 L276 240.93 L276.5 238.31 L277 240.45 L277.5 237.89 L278 241.36 L278.5 241.01 L279 238.98 L279.5 241.44 L280 238.3 L280.5 237.53 L281 240.86 L281.5 239.03 L282 238.48 L282.5 238.15 L283 240.5 L283.5 238.35 L284 241.28 L284.5 238.55 L285 241.12 L285.5 237.76 L286 239.78 L286.5 237.38 L287 239.74 L287.5 237 L288 239.97 L288.5 237.49 L289 239.98 L289.5 237.47 L290 240.56 L290.5 236.49 L291 240.37 L291.5 239.56 L292 242.76 L292.5 237.4 L293 241.93 L293.5 236.73 L294 245.37 L294.5 235 L295 237.03 L295.5 235.6 L296 235.71 L296.5 240.02 L297 236.65 L297.5 240.73 L298 239.79 L298.5 236.44 L299 239.75 L299.5 236.52 L300 239.56 L300.5 240.35 L301 235.65 L301.5 240.92 L302 235.58 L302.5 243.16 L303 235.75 L303.5 239.48 L304 234.81 L304.5 239.38 L305 235.68 L305.5 240.72 L306 236.39 L306.5 240.58 L307 240.7 L307.5 234.43 L308 239.9 L308.5 234.67 L309 240.34 L309.5 235.49 L310 239.87 L310.5 239.71 L311 234.18 L311.5 243.57 L312 235.22 L312.5 240.81 L313 234.22 L313.5 238.04 L314 234.53 L314.5 240.45 L315 238.89 L315.5 239.52 L316 238.53 L316.5 239.43 L317 235.07 L317.5 239.04 L318 233.89 L318.5 242.16 L319 233.67 L319.5 239.72 L320 233.82 L320.5 238.29 L321 234.27 L321.5 239.39 L322 233.67 L322.5 239.14 L323 237.6 L323.5 238.36 L324 234.57 L324.5 238.14 L325 233.85 L325.5 239.24 L326 233.13 L326.5 234.39 L327 239.01 L327.5 233.94 L328 234.54 L328.5 233.37 L329 238.38 L329.5 233.16 L330 238.53 L330.5 235.89 L331 237.68 L331.5 233.21 L332 240.06 L332.5 234.78 L333 241.51 L333.5 239.39 L334 235.08 L334.5 236.68 L335 231.51 L335.5 239.58 L336 234.43 L336.5 235.08 L337 242.11 L337.5 234.42 L338 236.47 L338.5 235.38 L339 240.11 L339.5 235.62 L340 235.86 L340.5 235.93 L341 240.59 L341.5 236.13 L342 239.5 L342.5 236.33 L343 243.62 L343.5 236.23 L344 239.87 L344.5 236.14 L345 241.46 L345.5 236.62 L346 240.23 L346.5 237.11 L347 239.58 L347.5 235.68 L348 239.95 L348.5 236.04 L349 235.4 L349.5 240.64 L350 235.39 L350.5 240.55 L351 235.64 L351.5 241.05 L352 235.59 L352.5 240.03 L353 238.99 L353.5 237.4 L354 241.96 L354.5 237.43 L355 243.56 L355.5 237.82 L356 241.65 L356.5 237.47 L357 241.24 L357.5 237.61 L358 241.53 L358.5 236.81 L359 237.52 L359.5 244.28 L360 240.99 L360.5 237.1 L361 236.49 L361.5 241.65 L362 242.12 L362.5 236.36 L363 241.24 L363.5 236.59 L364 242.1 L364.5 238.58 L365 242.26 L365.5 237.79 L366 239.61 L366.5 244.55 L367 237.96 L367.5 242.25 L368 237.95 L368.5 241.19 L369 237.9 L369.5 241.94 L370 236.65 L370.5 242.61 L371 237.16 L371.5 241.58 L372 237.6 L372.5 242.11 L373 237.43 L373.5 242.49 L374 238.28 L374.5 243.69 L375 238.99 L375.5 243.7 L376 238.67 L376.5 242.22 L377 236.43 L377.5 242.73 L378 234.57 L378.5 236.44 L379 241.71 L379.5 237.81 L380 239.41 L380.5 237.27 L381 242.39 L381.5 237.95 L382 237.88 L382.5 245.19 L383 236.95 L383.5 241.27 L384 241.78 L384.5 237.79 L385 242.44 L385.5 237.78 L386 242.66 L386.5 236.92 L387 242.82 L387.5 237.78 L388 241.85 L388.5 242.7 L389 241.93 L389.5 239.12 L390 241.18 L390.5 237 L391 241.98 L391.5 242.39 L392 237.95 L392.5 241.21 L393 241.23 L393.5 237.75 L394 241.91 L394.5 237.41 L395 242.05 L395.5 241.7 L396 237.84 L396.5 241.49 L397 237.61 L397.5 242.21 L398 236.6 L398.5 242.47 L399 238.21 L399.5 242.25 L400 240.95 L400.5 243.13 L401 243.76 L401.5 241.6 L402 241.85 L402.5 237.28 L403 237.57 L403.5 242.06 L404 236.79 L404.5 242.71 L405 236.88 L405.5 239.44 L406 236.68 L406.5 241.23 L407 236.7 L407.5 241.54 L408 240.92 L408.5 242.89 L409 237.15 L409.5 242.72 L410 236.75 L410.5 242.75 L411 237.16 L411.5 241.72 L412 236.86 L412.5 241.45 L413 237.4 L413.5 241.67 L414 237.34 L414.5 242.76 L415 236.91 L415.5 241.77 L416 241.41 L416.5 237.79 L417 237.19 L417.5 242.58 L418 237.83 L418.5 241.49 L419 238.15 L419.5 241.64 L420 238.4 L420.5 242.37 L421 236.77 L421.5 241.88 L422 238.22 L422.5 242.45 L423 237.07 L423.5 241.63 L424 238.23 L424.5 236.74 L425 237.78 L425.5 243.07 L426 237.54 L426.5 241.77 L427 238.33 L427.5 237.99 L428 233.48 L428.5 243.09 L429 238.3 L429.5 241.95 L430 237.2 L430.5 241.69 L431 237.72 L431.5 238.22 L432 237.61 L432.5 241.65 L433 236.82 L433.5 242.91 L434 237.69 L434.5 241.72 L435 241.51 L435.5 237.2 L436 242.08 L436.5 235.48 L437 242.45 L437.5 236.76 L438 237.13 L438.5 240.49 L439 241.65 L439.5 237.06 L440 241.91 L440.5 238.43 L441 241.71 L441.5 236.94 L442 244.56 L442.5 240.49 L443 236.62 L443.5 238.06 L444 241.73 L444.5 238.53 L445 241.61 L445.5 238.17 L446 243.02 L446.5 238.39 L447 245.59 L447.5 238.46 L448 242.53 L448.5 242.01" stroke="#46702E" stroke-width="2.6"/>
<path d="M57.5 74.69 L58 76.04 L58.5 75.12 L59 79.21 L59.5 73.12 L60 79.8 L60.5 75.98 L61 78.71 L61.5 74.94 L62 78.76 L62.5 78.01 L63 75.25 L63.5 74.89 L64 79.57 L64.5 75.63 L65 79.22 L65.5 74.69 L66 79.12 L66.5 75.53 L67 79.57 L67.5 78.69 L68 75.4 L68.5 79.39 L69 75.65 L69.5 75.78 L70 78.74 L70.5 75.95 L71 79.7 L71.5 75.63 L72 82.63 L72.5 75.46 L73 76.04 L73.5 78.71 L74 79.45 L74.5 76.26 L75 75.96 L75.5 80.74 L76 76.67 L76.5 75.46 L77 79.82 L77.5 76.36 L78 79.77 L78.5 74.63 L79 75.58 L79.5 75.38 L80 78.92 L80.5 75.08 L81 79.03 L81.5 74.72 L82 75.42 L82.5 78.73 L83 75.55 L83.5 78.63 L84 79.28 L84.5 75.26 L85 79.99 L85.5 75.16 L86 78.78 L86.5 79.97 L87 78.68 L87.5 75.27 L88 79.5 L88.5 76.47 L89 80.55 L89.5 76.38 L90 75.67 L90.5 78.73 L91 74.66 L91.5 79.04 L92 75.92 L92.5 78.72 L93 79.07 L93.5 75.65 L94 79.94 L94.5 75.7 L95 79.13 L95.5 75.38 L96 79.17 L96.5 76.72 L97 78.57 L97.5 75.01 L98 79.99 L98.5 79.82 L99 75.9 L99.5 78.79 L100 74.43 L100.5 79.71 L101 74.65 L101.5 80.16 L102 74.18 L102.5 74.38 L103 80.01 L103.5 74.53 L104 81.17 L104.5 76.24 L105 76.51 L105.5 80.43 L106 74.22 L106.5 72.5 L107 78.62 L107.5 72.58 L108 77.65 L108.5 69.84 L109 77.63 L109.5 69.91 L110 70 L110.5 71.32 L111 78.64 L111.5 77.3 L112 80.73 L112.5 84.09 L113 91.39 L113.5 95.3 L114 101.17 L114.5 104.67 L115 106.5 L115.5 111.6 L116 113.54 L116.5 118.79 L117 120.53 L117.5 125.76 L118 126.84 L118.5 132.63 L119 133.84 L119.5 139.13 L120 140.41 L120.5 143.3 L121 148.56 L121.5 149.87 L122 154.73 L122.5 157.68 L123 159.19 L123.5 163.91 L124 166.65 L124.5 167.27 L125 170.56 L125.5 174.41 L126 175.66 L126.5 178.92 L127 184.31 L127.5 186.09 L128 192.03 L128.5 193.77 L129 198.71 L129.5 202.5 L130 204.07 L130.5 209.65 L131 210.88 L131.5 215.89 L132 218.03 L132.5 221.68 L133 227.36 L133.5 229.24 L134 234.38 L134.5 237.81 L135 237.46 L135.5 242.31 L136 242.09 L136.5 246.44 L137 246.41 L137.5 250.25 L138 250.56 L138.5 251.34 L139 255.8 L139.5 255.94 L140 259.59 L140.5 257.91 L141 265.1 L141.5 265.27 L142 269.54 L142.5 268.82 L143 271.05 L143.5 274.62 L144 274.18 L144.5 275.38 L145 277.98 L145.5 277.06 L146 279.86 L146.5 280.42 L147 279.46 L147.5 281.85 L148 280.89 L148.5 281.95 L149 285.16 L149.5 283.42 L150 287.1 L150.5 285.89 L151 286.55 L151.5 282.9 L152 284.19 L152.5 281.16 L153 281.46 L153.5 278.14 L154 279.36 L154.5 276.01 L155 277.29 L155.5 273.84 L156 272.73 L156.5 273.12 L157 269.82 L157.5 268.59 L158 269.65 L158.5 267.63 L159 263.53 L159.5 264.52 L160 260.55 L160.5 262.05 L161 261.26 L161.5 257.73 L162 258.49 L162.5 256.8 L163 252.89 L163.5 253.54 L164 250.14 L164.5 251.3 L165 249.93 L165.5 247.63 L166 248.24 L166.5 244.63 L167 245.8 L167.5 241.89 L168 243.42 L168.5 241.72 L169 238.6 L169.5 239.28 L170 236.1 L170.5 237.38 L171 233.64 L171.5 232.95 L172 233.37 L172.5 230.1 L173 231.15 L173.5 228.18 L174 229.11 L174.5 228.67 L175 225.28 L175.5 226.96 L176 223.8 L176.5 225.93 L177 223.07 L177.5 224.72 L178 221.96 L178.5 222.82 L179 222.25 L179.5 220.01 L180 221.47 L180.5 218.04 L181 220.12 L181.5 216.15 L182 213.87 L182.5 213.93 L183 212.89 L183.5 208.44 L184 208.85 L184.5 204.53 L185 204.89 L185.5 200.59 L186 200.24 L186.5 199.97 L187 202.78 L187.5 202.16 L188 205.5 L188.5 204.92 L189 208.9 L189.5 209.58 L190 212.74 L190.5 212.45 L191 214.08 L191.5 218.06 L192 220.02 L192.5 222.02 L193 220.24 L193.5 223.98 L194 222.86 L194.5 226.49 L195 225.8 L195.5 230.75 L196 229.53 L196.5 232.62 L197 232.23 L197.5 235.28 L198 235.12 L198.5 236.84 L199 237.98 L199.5 239.86 L200 243.5 L200.5 243.47 L201 247.06 L201.5 245.89 L202 249.76 L202.5 249.62 L203 250.43 L203.5 254.12 L204 253.16 L204.5 256.11 L205 255.19 L205.5 258.34 L206 256.09 L206.5 259.65 L207 256.93 L207.5 260.41 L208 258.42 L208.5 261.62 L209 258.72 L209.5 262.84 L210 260.07 L210.5 262.93 L211 258.56 L211.5 261.15 L212 261.2 L212.5 258.56 L213 262.21 L213.5 260.08 L214 262.29 L214.5 259.82 L215 261.83 L215.5 259.27 L216 261.63 L216.5 259.69 L217 261.19 L217.5 259.38 L218 258.45 L218.5 261.43 L219 258.96 L219.5 260.82 L220 257.83 L220.5 260.04 L221 256.73 L221.5 258.9 L222 255.85 L222.5 254.66 L223 256.71 L223.5 253.07 L224 254.79 L224.5 252.26 L225 253.34 L225.5 250.36 L226 252.42 L226.5 249.59 L227 251.28 L227.5 247.84 L228 246.98 L228.5 249.58 L229 246.25 L229.5 248.18 L230 247.26 L230.5 244.44 L231 246.08 L231.5 242.97 L232 244.71 L232.5 242.99 L233 244.08 L233.5 244.16 L234 240.63 L234.5 242.38 L235 238.36 L235.5 240.45 L236 236.93 L236.5 238.42 L237 236.62 L237.5 237.79 L238 234.59 L238.5 236.51 L239 232.65 L239.5 234.96 L240 232.37 L240.5 233.51 L241 230.83 L241.5 233 L242 229.84 L242.5 232.04 L243 229.61 L243.5 232.32 L244 229.12 L244.5 231.8 L245 229.01 L245.5 231.55 L246 229.56 L246.5 231.56 L247 229.3 L247.5 231.12 L248 231.88 L248.5 229.41 L249 231.02 L249.5 228.94 L250 231.72 L250.5 229.13 L251 231.53 L251.5 228.58 L252 231.54 L252.5 229.19 L253 228.95 L253.5 231.44 L254 229.3 L254.5 231.58 L255 229.86 L255.5 232.4 L256 230.26 L256.5 230.18 L257 232.98 L257.5 230.48 L258 232.41 L258.5 230.26 L259 232.81 L259.5 230.65 L260 233.56 L260.5 231.12 L261 234.16 L261.5 232.39 L262 234.93 L262.5 233.7 L263 236.61 L263.5 234.15 L264 236.8 L264.5 235.42 L265 238.56 L265.5 235.94 L266 239.06 L266.5 236.66 L267 240.15 L267.5 239.64 L268 237.81 L268.5 240.4 L269 238.5 L269.5 241.09 L270 239.2 L270.5 241.24 L271 239.26 L271.5 241.8 L272 240.08 L272.5 242.23 L273 239.31 L273.5 242.19 L274 240.06 L274.5 242 L275 239.3 L275.5 242 L276 240.17 L276.5 244.06 L277 240.18 L277.5 242.65 L278 240.14 L278.5 241.77 L279 239.37 L279.5 240.35 L280 239.87 L280.5 242.56 L281 239.45 L281.5 241.25 L282 239.03 L282.5 241.29 L283 240.55 L283.5 242.92 L284 240.2 L284.5 238.21 L285 242.06 L285.5 239.67 L286 242.18 L286.5 240.14 L287 242.23 L287.5 239.98 L288 242.62 L288.5 239.59 L289 241.98 L289.5 242.18 L290 239.78 L290.5 243.07 L291 245.22 L291.5 237.98 L292 242.37 L292.5 236.75 L293 241.65 L293.5 236.04 L294 240.86 L294.5 235.92 L295 240.31 L295.5 233.75 L296 239.08 L296.5 233.64 L297 238.75 L297.5 233.76 L298 238.03 L298.5 233.28 L299 233.09 L299.5 238 L300 234.06 L300.5 235.09 L301 232.22 L301.5 240.81 L302 233.15 L302.5 234.34 L303 233.1 L303.5 240.23 L304 232.14 L304.5 236.61 L305 236.37 L305.5 232.24 L306 235.97 L306.5 230.34 L307 236.38 L307.5 235.72 L308 235.38 L308.5 236.1 L309 232.14 L309.5 236.07 L310 231.37 L310.5 235.76 L311 233.25 L311.5 236.47 L312 231.59 L312.5 235.33 L313 235.8 L313.5 230.76 L314 235.11 L314.5 230.38 L315 235.98 L315.5 236.46 L316 230.34 L316.5 237.63 L317 235.27 L317.5 230.17 L318 235.17 L318.5 231.16 L319 235.04 L319.5 231.27 L320 230.68 L320.5 231.66 L321 234.92 L321.5 230.59 L322 235.29 L322.5 234.86 L323 235.23 L323.5 230.05 L324 235.28 L324.5 230.95 L325 235.51 L325.5 230.43 L326 230.92 L326.5 230.67 L327 235.96 L327.5 230.68 L328 238.29 L328.5 227.54 L329 236.19 L329.5 230.93 L330 235.39 L330.5 231.49 L331 235.3 L331.5 231.36 L332 236.75 L332.5 232.38 L333 235.69 L333.5 233.46 L334 236.09 L334.5 237.09 L335 231.23 L335.5 239.41 L336 231.71 L336.5 236.35 L337 229.9 L337.5 232.82 L338 237.19 L338.5 232.39 L339 232.36 L339.5 236.84 L340 233.49 L340.5 237.79 L341 232.41 L341.5 238.2 L342 230.49 L342.5 238.11 L343 233.27 L343.5 233.98 L344 236.93 L344.5 233.4 L345 238.23 L345.5 234 L346 238.25 L346.5 234.78 L347 238.7 L347.5 234.97 L348 239.96 L348.5 235.17 L349 240.6 L349.5 236.26 L350 239.39 L350.5 235.04 L351 240.06 L351.5 236.5 L352 240.14 L352.5 236.67 L353 240.98 L353.5 235.42 L354 240.99 L354.5 235.53 L355 243.37 L355.5 236.4 L356 239.31 L356.5 234.92 L357 240.24 L357.5 235.99 L358 235.68 L358.5 235.39 L359 241.28 L359.5 236.33 L360 235.94 L360.5 240.4 L361 235.63 L361.5 240.34 L362 240.07 L362.5 235.29 L363 234.91 L363.5 240.76 L364 235.25 L364.5 241.17 L365 241.77 L365.5 242.59 L366 235.38 L366.5 235.77 L367 239.84 L367.5 241.49 L368 241.3 L368.5 236.4 L369 241.44 L369.5 236.78 L370 240.44 L370.5 236.35 L371 236.09 L371.5 240.94 L372 237.05 L372.5 235.58 L373 241.03 L373.5 236.22 L374 240.83 L374.5 236.6 L375 240.89 L375.5 235.64 L376 241.05 L376.5 236.75 L377 241.27 L377.5 236.4 L378 239.71 L378.5 239.63 L379 241.32 L379.5 241.25 L380 235.96 L380.5 241.83 L381 237.1 L381.5 235.84 L382 241.21 L382.5 237.09 L383 235.97 L383.5 240.29 L384 235.88 L384.5 240.87 L385 236.41 L385.5 241.81 L386 236.06 L386.5 241.68 L387 236.14 L387.5 241.09 L388 235.84 L388.5 241.54 L389 235.68 L389.5 241.87 L390 236.3 L390.5 241.84 L391 236.06 L391.5 241.33 L392 236.59 L392.5 240.45 L393 235.73 L393.5 240.58 L394 236.4 L394.5 237.87 L395 236.53 L395.5 240.32 L396 237.02 L396.5 244.7 L397 234.76 L397.5 232.69 L398 239.21 L398.5 235.51 L399 240.26 L399.5 237.14 L400 241.08 L400.5 237.06 L401 240.44 L401.5 236.78 L402 240.72 L402.5 241.76 L403 236.98 L403.5 241.84 L404 236.47 L404.5 237.11 L405 236.3 L405.5 241.54 L406 236.77 L406.5 240.28 L407 241.33 L407.5 236.24 L408 241.82 L408.5 236.08 L409 241.1 L409.5 235.69 L410 241.71 L410.5 237.05 L411 240.53 L411.5 235.99 L412 240.26 L412.5 234.29 L413 236.26 L413.5 241.97 L414 235.94 L414.5 242.25 L415 236.8 L415.5 241.79 L416 239.49 L416.5 237.81 L417 245.48 L417.5 237.65 L418 244.64 L418.5 240.91 L419 236.44 L419.5 237.14 L420 241.81 L420.5 236.62 L421 240.74 L421.5 236.89 L422 241.7 L422.5 237.09 L423 241.9 L423.5 235.81 L424 241.53 L424.5 236.46 L425 235.94 L425.5 243.53 L426 236.02 L426.5 242.03 L427 237.21 L427.5 240.89 L428 240.7 L428.5 236.44 L429 241.25 L429.5 235.95 L430 243.06 L430.5 236.21 L431 241.83 L431.5 240.53 L432 235.86 L432.5 244.12 L433 234.26 L433.5 240.97 L434 236.46 L434.5 241.04 L435 236.74 L435.5 241.37 L436 236.74 L436.5 241.65 L437 236.21 L437.5 240.83 L438 235.86 L438.5 241.95 L439 235.78 L439.5 238.12 L440 237.98 L440.5 242.15 L441 241.67 L441.5 241.38 L442 236.71 L442.5 240.65 L443 240.73 L443.5 236.16 L444 242.01 L444.5 236.31 L445 241.95 L445.5 239.63 L446 240.1 L446.5 235.85 L447 241.04 L447.5 237.41 L448 234.29 L448.5 244.07" stroke="#255E91" stroke-width="2.6"/>
</g>
<line x1="57.4" y1="28" x2="448.4" y2="28" stroke="#000" stroke-width="1.3" />
<line x1="448.4" y1="28" x2="448.4" y2="311.5" stroke="#000" stroke-width="1.3" />
<line x1="57.4" y1="27.4" x2="57.4" y2="312.1" stroke="#000" stroke-width="1.3" />
<line x1="57.4" y1="311.5" x2="449" y2="311.5" stroke="#000" stroke-width="1.3" />
<line x1="53" y1="311.5" x2="57.4" y2="311.5" stroke="#000" stroke-width="1.3" />
<text transform="translate(45.6 316.5) scale(1 1.06)" font-family='"Liberation Sans", sans-serif' font-size="14.5" text-anchor="end" font-weight="normal" fill="#000" >-1</text>
<line x1="53" y1="240.62" x2="57.4" y2="240.62" stroke="#000" stroke-width="1.3" />
<text transform="translate(45.6 245.62) scale(1 1.06)" font-family='"Liberation Sans", sans-serif' font-size="14.5" text-anchor="end" font-weight="normal" fill="#000" >0</text>
<line x1="53" y1="169.75" x2="57.4" y2="169.75" stroke="#000" stroke-width="1.3" />
<text transform="translate(45.6 174.75) scale(1 1.06)" font-family='"Liberation Sans", sans-serif' font-size="14.5" text-anchor="end" font-weight="normal" fill="#000" >1</text>
<line x1="53" y1="98.88" x2="57.4" y2="98.88" stroke="#000" stroke-width="1.3" />
<text transform="translate(45.6 103.88) scale(1 1.06)" font-family='"Liberation Sans", sans-serif' font-size="14.5" text-anchor="end" font-weight="normal" fill="#000" >2</text>
<line x1="53" y1="28" x2="57.4" y2="28" stroke="#000" stroke-width="1.3" />
<text transform="translate(45.6 33) scale(1 1.06)" font-family='"Liberation Sans", sans-serif' font-size="14.5" text-anchor="end" font-weight="normal" fill="#000" >3</text>
<line x1="57.4" y1="311.5" x2="57.4" y2="315.9" stroke="#000" stroke-width="1.3" />
<text transform="translate(57.8 333.5) scale(1 1.06)" font-family='"Liberation Sans", sans-serif' font-size="14.5" text-anchor="middle" font-weight="normal" fill="#000" >-1</text>
<line x1="113.26" y1="311.5" x2="113.26" y2="315.9" stroke="#000" stroke-width="1.3" />
<text transform="translate(113.66 333.5) scale(1 1.06)" font-family='"Liberation Sans", sans-serif' font-size="14.5" text-anchor="middle" font-weight="normal" fill="#000" >0</text>
<line x1="169.11" y1="311.5" x2="169.11" y2="315.9" stroke="#000" stroke-width="1.3" />
<text transform="translate(169.51 333.5) scale(1 1.06)" font-family='"Liberation Sans", sans-serif' font-size="14.5" text-anchor="middle" font-weight="normal" fill="#000" >1</text>
<line x1="224.97" y1="311.5" x2="224.97" y2="315.9" stroke="#000" stroke-width="1.3" />
<text transform="translate(225.37 333.5) scale(1 1.06)" font-family='"Liberation Sans", sans-serif' font-size="14.5" text-anchor="middle" font-weight="normal" fill="#000" >2</text>
<line x1="280.83" y1="311.5" x2="280.83" y2="315.9" stroke="#000" stroke-width="1.3" />
<text transform="translate(281.23 333.5) scale(1 1.06)" font-family='"Liberation Sans", sans-serif' font-size="14.5" text-anchor="middle" font-weight="normal" fill="#000" >3</text>
<line x1="336.69" y1="311.5" x2="336.69" y2="315.9" stroke="#000" stroke-width="1.3" />
<text transform="translate(337.09 333.5) scale(1 1.06)" font-family='"Liberation Sans", sans-serif' font-size="14.5" text-anchor="middle" font-weight="normal" fill="#000" >4</text>
<line x1="392.54" y1="311.5" x2="392.54" y2="315.9" stroke="#000" stroke-width="1.3" />
<text transform="translate(392.94 333.5) scale(1 1.06)" font-family='"Liberation Sans", sans-serif' font-size="14.5" text-anchor="middle" font-weight="normal" fill="#000" >5</text>
<line x1="448.4" y1="311.5" x2="448.4" y2="315.9" stroke="#000" stroke-width="1.3" />
<text transform="translate(448.8 333.5) scale(1 1.06)" font-family='"Liberation Sans", sans-serif' font-size="14.5" text-anchor="middle" font-weight="normal" fill="#000" >6</text>
<line x1="112.4" y1="48.4" x2="112.4" y2="311.5" stroke="#000" stroke-width="1.3" stroke-dasharray="8.8 3.77" stroke-dashoffset="-0.8"/>
<line x1="59" y1="61.2" x2="111" y2="61.2" stroke="#8c8c8c" stroke-width="1.6" />
<path d="M57.8 61.2 L63.2 59 L63.2 63.4 Z" fill="#000"/>
<path d="M111.8 61.2 L106.4 59 L106.4 63.4 Z" fill="#000"/>
<text transform="translate(58.6 55.5) scale(1 1.12)" font-family='"Liberation Sans", sans-serif' font-size="12.8" text-anchor="start" font-weight="normal" fill="#000" >Charging</text>
<text x="118" y="77.5" font-family='"Liberation Sans", sans-serif' font-size="14.5" text-anchor="start" font-weight="normal" fill="#000" >2.5 J</text>
<text x="118" y="100.5" font-family='"Liberation Sans", sans-serif' font-size="14.5" text-anchor="start" font-weight="normal" fill="#000" >2.0 J</text>
<text x="118.3" y="122.8" font-family='"Liberation Sans", sans-serif' font-size="14.5" text-anchor="start" font-weight="normal" fill="#000" >1.5 J</text>
<text x="119.5" y="146.6" font-family='"Liberation Sans", sans-serif' font-size="14.5" text-anchor="start" font-weight="normal" fill="#000" >1.0 J</text>
<text x="127.3" y="173" font-family='"Liberation Sans", sans-serif' font-size="14.5" text-anchor="start" font-weight="normal" fill="#000" >0.5 J</text>
<text x="0" y="0" font-family='"Liberation Sans", sans-serif' font-size="14" text-anchor="start" font-weight="normal" fill="#000" transform="translate(110.1 307.0) rotate(-90) scale(1.06 1)">Breakdown</text>
<text transform="translate(252.3 358.5) scale(1 1.1)" font-family='"Liberation Sans", sans-serif' font-size="21.5" text-anchor="middle" font-weight="normal" fill="#000" >Time (&#181;s)</text>

<text x="0" y="0" font-family='"Liberation Sans", sans-serif' font-size="21.8" text-anchor="middle" font-weight="normal" fill="#000" transform="translate(28.0 175.6) rotate(-90) scale(1 1.06)">Voltage (kV)</text>
<text transform="translate(8.8 24.5) scale(1 1.03)" font-family='"Liberation Serif", serif' font-size="23.5" text-anchor="start" font-weight="normal" fill="#000" >a)</text>
<g clip-path="url(#cb)" fill="none" stroke-linejoin="round">
<path d="M59.5 553.52 L60 556.2 L60.5 550.37 L61 553.33 L61.5 550.57 L62 554.19 L62.5 549.86 L63 553.2 L63.5 550.54 L64 553.35 L64.5 549.69 L65 554.14 L65.5 550.44 L66 553.86 L66.5 553.77 L67 550.51 L67.5 553.26 L68 552.48 L68.5 549.73 L69 553.58 L69.5 549.6 L70 554.37 L70.5 554.26 L71 553.67 L71.5 550.24 L72 553.62 L72.5 550.57 L73 551.43 L73.5 550.67 L74 553.76 L74.5 553.64 L75 549.97 L75.5 553.7 L76 549.71 L76.5 553.43 L77 554.04 L77.5 550.18 L78 550.68 L78.5 553.98 L79 553.74 L79.5 553.28 L80 551.23 L80.5 554.2 L81 549.49 L81.5 552.32 L82 548.9 L82.5 552.63 L83 546.73 L83.5 554.62 L84 550.62 L84.5 556.28 L85 554.45 L85.5 549.81 L86 550.17 L86.5 550.02 L87 552.38 L87.5 550.08 L88 552.65 L88.5 549.61 L89 552.7 L89.5 549.08 L90 552.71 L90.5 549.6 L91 553.93 L91.5 550.04 L92 553.91 L92.5 550.87 L93 554.02 L93.5 550.88 L94 553.38 L94.5 553.47 L95 549.78 L95.5 553.24 L96 554.07 L96.5 550.06 L97 553.35 L97.5 549.88 L98 553.42 L98.5 550.02 L99 556.4 L99.5 549.91 L100 553.53 L100.5 555.14 L101 549.83 L101.5 553.44 L102 550.68 L102.5 553.86 L103 550.29 L103.5 554.25 L104 549.85 L104.5 553.24 L105 549.78 L105.5 554.15 L106 549.73 L106.5 549.77 L107 553.41 L107.5 549.79 L108 553.48 L108.5 549.91 L109 553.58 L109.5 554.18 L110 550.28 L110.5 549.81 L111 550.06 L111.5 553.25 L112 549.97 L112.5 553.23 L113 550.81 L113.5 552.31 L114 551.49 L114.5 551.08 L115 547.41 L115.5 544.85 L116 542.6 L116.5 539.98 L117 537.86 L117.5 534.51 L118 532.67 L118.5 529.15 L119 526.8 L119.5 524.04 L120 522.3 L120.5 519 L121 517.47 L121.5 514.41 L122 512.98 L122.5 509.91 L123 507.65 L123.5 506.65 L124 503.86 L124.5 502.69 L125 500.19 L125.5 499.12 L126 496.76 L126.5 496.17 L127 494.73 L127.5 492.32 L128 491.33 L128.5 491.12 L129 489.05 L129.5 489.04 L130 487.21 L130.5 487.59 L131 485.86 L131.5 486.38 L132 485.2 L132.5 485.51 L133 484.65 L133.5 485.3 L134 484.64 L134.5 485.41 L135 484.87 L135.5 485.88 L136 486.55 L136.5 486.34 L137 488.17 L137.5 487.85 L138 489.76 L138.5 490.72 L139 491.05 L139.5 493.04 L140 493.49 L140.5 494.76 L141 497.02 L141.5 497.64 L142 500.37 L142.5 501.94 L143 503.01 L143.5 505.51 L144 506.63 L144.5 509.44 L145 510.77 L145.5 513.7 L146 514.87 L146.5 517.98 L147 519.1 L147.5 522 L148 523.5 L148.5 525.9 L149 529.45 L149.5 530.95 L150 533.99 L150.5 535.57 L151 538.8 L151.5 540.34 L152 543.61 L152.5 546.24 L153 547.63 L153.5 550.97 L154 552.22 L154.5 554.34 L155 557.53 L155.5 559.83 L156 561.02 L156.5 563.04 L157 566.24 L157.5 567.38 L158 570.14 L158.5 571.2 L159 574.11 L159.5 576.04 L160 576.83 L160.5 579.16 L161 579.91 L161.5 582.19 L162 582.78 L162.5 584.82 L163 585.29 L163.5 587.14 L164 587.4 L164.5 588.86 L165 588.79 L165.5 590.47 L166 590.29 L166.5 590.78 L167 591.99 L167.5 591.32 L168 592.52 L168.5 591.41 L169 592.34 L169.5 592.39 L170 591.17 L170.5 592.04 L171 590.85 L171.5 591.45 L172 590.25 L172.5 590.69 L173 589.05 L173.5 589.43 L174 587.78 L174.5 588.03 L175 587.26 L175.5 585.54 L176 584.78 L176.5 584.46 L177 582.51 L177.5 582.26 L178 580.72 L178.5 580.38 L179 578.39 L179.5 578.22 L180 576.06 L180.5 575.71 L181 573.62 L181.5 573.31 L182 571.24 L182.5 570.6 L183 568.39 L183.5 567.17 L184 565.77 L184.5 565.29 L185 563.85 L185.5 562.27 L186 560.27 L186.5 558.32 L187 557.85 L187.5 555.74 L188 555.07 L188.5 553.06 L189 552.39 L189.5 550.33 L190 549.86 L190.5 547.77 L191 547.47 L191.5 545.57 L192 545.19 L192.5 543.07 L193 542.93 L193.5 540.95 L194 540.57 L194.5 538.99 L195 538.63 L195.5 536.61 L196 536.8 L196.5 535.04 L197 534.43 L197.5 533.63 L198 533 L198.5 533.16 L199 531.89 L199.5 532.84 L200 531.57 L200.5 531.87 L201 530.77 L201.5 531.38 L202 530.32 L202.5 530.91 L203 529.97 L203.5 530.24 L204 530.84 L204.5 530.34 L205 531.19 L205.5 530.29 L206 531.6 L206.5 530.69 L207 531.86 L207.5 531.23 L208 532.59 L208.5 532.9 L209 532.2 L209.5 533.38 L210 533.13 L210.5 534.16 L211 533.99 L211.5 535.17 L212 534.66 L212.5 536.22 L213 535.86 L213.5 536.44 L214 537.76 L214.5 538.31 L215 538.04 L215.5 539.51 L216 539.49 L216.5 540.12 L217 541.52 L217.5 541.25 L218 542.75 L218.5 542.66 L219 543.98 L219.5 543.83 L220 545.59 L220.5 545.08 L221 546.89 L221.5 546.6 L222 548.03 L222.5 547.83 L223 549.44 L223.5 549.06 L224 550.71 L224.5 550.45 L225 551.69 L225.5 551.37 L226 552.85 L226.5 552.61 L227 553.16 L227.5 554.68 L228 554.41 L228.5 555.64 L229 555.37 L229.5 556.45 L230 556.07 L230.5 557.56 L231 556.8 L231.5 558.02 L232 557.47 L232.5 558.77 L233 558.09 L233.5 558.54 L234 559.47 L234.5 558.81 L235 559.86 L235.5 559.13 L236 559.5 L236.5 558.95 L237 559.71 L237.5 558.94 L238 559.59 L238.5 558.88 L239 559.55 L239.5 558.76 L240 559.94 L240.5 559.11 L241 559.93 L241.5 558.3 L242 559.06 L242.5 558.87 L243 558.1 L243.5 559.11 L244 558.05 L244.5 558.83 L245 557.6 L245.5 558.4 L246 557.43 L246.5 557.84 L247 556.83 L247.5 557.57 L248 556.86 L248.5 556.71 L249 557.23 L249.5 556.12 L250 556.85 L250.5 555.76 L251 556.36 L251.5 555.04 L252 555.58 L252.5 554.73 L253 555.25 L253.5 554.1 L254 554.7 L254.5 553.94 L255 554.81 L255.5 553.19 L256 552.91 L256.5 553.6 L257 552.68 L257.5 553.17 L258 552.18 L258.5 553.04 L259 552.06 L259.5 552.93 L260 552.04 L260.5 552.52 L261 551.52 L261.5 552.54 L262 551.6 L262.5 552.13 L263 551.15 L263.5 551.98 L264 551.05 L264.5 551.09 L265 552.02 L265.5 552.01 L266 551.17 L266.5 551.86 L267 551.88 L267.5 551.19 L268 552.01 L268.5 551.09 L269 551.88 L269.5 551.23 L270 552 L270.5 551.08 L271 552.09 L271.5 552.16 L272 551.2 L272.5 552.28 L273 551.3 L273.5 552.23 L274 551.54 L274.5 552.27 L275 551.18 L275.5 552.33 L276 551.24 L276.5 552.63 L277 552.08 L277.5 551.93 L278 553.07 L278.5 552.62 L279 551.82 L279.5 552.7 L280 551.85 L280.5 552.93 L281 552.08 L281.5 553.12 L282 552.3 L282.5 553.04 L283 552.29 L283.5 552.25 L284 553.21 L284.5 552.33 L285 553.4 L285.5 552.64 L286 553.46 L286.5 552.82 L287 553.43 L287.5 552.37 L288 553.35 L288.5 552.57 L289 553.32 L289.5 552.69 L290 553.41 L290.5 552.71 L291 553.47 L291.5 552.55 L292 553.55 L292.5 552.9 L293 553.75 L293.5 552.85 L294 552.93 L294.5 553.63 L295 552.77 L295.5 553.71 L296 552.67 L296.5 553.59 L297 552.43 L297.5 553.27 L298 552.58 L298.5 553.31 L299 552.72 L299.5 553.28 L300 552.45 L300.5 553.48 L301 552.61 L301.5 553.38 L302 553.35 L302.5 552.69 L303 553.36 L303.5 552.58 L304 553.37 L304.5 552.49 L305 553.31 L305.5 552.41 L306 553.58 L306.5 552.45 L307 553.75 L307.5 552.96 L308 553.58 L308.5 553.55 L309 552.87 L309.5 553.77 L310 552.67 L310.5 553.55 L311 552.59 L311.5 552.61 L312 553.28 L312.5 552.66 L313 553.31 L313.5 552.73 L314 553.34 L314.5 552.56 L315 553.28 L315.5 553.41 L316 552.52 L316.5 553.42 L317 552.69 L317.5 553.39 L318 552.69 L318.5 552.61 L319 552.64 L319.5 552.69 L320 553.61 L320.5 551.68 L321 554.79 L321.5 552.42 L322 555.03 L322.5 552 L323 555.13 L323.5 552.76 L324 554.64 L324.5 551.9 L325 554.4 L325.5 551.65 L326 554.98 L326.5 551.47 L327 554.93 L327.5 551.07 L328 554.4 L328.5 550.8 L329 554.96 L329.5 551.17 L330 554.29 L330.5 551.39 L331 555.22 L331.5 554.2 L332 551.17 L332.5 554.28 L333 550.83 L333.5 555.06 L334 551.94 L334.5 555.15 L335 550.83 L335.5 554.12 L336 551.12 L336.5 555.05 L337 551.86 L337.5 557.83 L338 550.74 L338.5 554.72 L339 550.85 L339.5 554.45 L340 554.42 L340.5 551.11 L341 555.3 L341.5 551.5 L342 554.3 L342.5 554.94 L343 555.16 L343.5 551.15 L344 553.01 L344.5 550.78 L345 555.02 L345.5 551.41 L346 554.56 L346.5 554.09 L347 551.51 L347.5 554.35 L348 551.67 L348.5 551.03 L349 551.27 L349.5 554.98 L350 551.85 L350.5 554.93 L351 551.7 L351.5 554.32 L352 552.47 L352.5 558.04 L353 552.6 L353.5 555.95 L354 551.63 L354.5 555.19 L355 550.83 L355.5 550.73 L356 555.05 L356.5 550.72 L357 555.22 L357.5 553.52 L358 555.13 L358.5 551.68 L359 554.16 L359.5 551.48 L360 551.73 L360.5 551.61 L361 554.16 L361.5 555.07 L362 554.14 L362.5 550.72 L363 554.71 L363.5 554.82 L364 551.48 L364.5 554.87 L365 555.13 L365.5 550.79 L366 554.83 L366.5 551.04 L367 554.06 L367.5 550.78 L368 551.22 L368.5 555.15 L369 551.47 L369.5 554.27 L370 554.73 L370.5 551.62 L371 554.77 L371.5 551.21 L372 554.64 L372.5 550.81 L373 555.24 L373.5 553.76 L374 550.16 L374.5 550.08 L375 554.03 L375.5 553.42 L376 551.28 L376.5 554.85 L377 555.26 L377.5 551.96 L378 555.09 L378.5 551.19 L379 554.66 L379.5 551.42 L380 554.91 L380.5 554.4 L381 550.79 L381.5 554.38 L382 551.95 L382.5 554.76 L383 550.92 L383.5 554.5 L384 551.46 L384.5 554.97 L385 551.38 L385.5 555.15 L386 551.25 L386.5 554.27 L387 550.81 L387.5 555.17 L388 551.15 L388.5 554.92 L389 554.64 L389.5 551.4 L390 555.22 L390.5 554.24 L391 550.49 L391.5 553.76 L392 551.38 L392.5 554.26 L393 551.54 L393.5 554.07 L394 554.08 L394.5 551.09 L395 551.96 L395.5 554.38 L396 552.57 L396.5 551.79 L397 554.85 L397.5 551.31 L398 554.67 L398.5 551.01 L399 554.08 L399.5 554.63 L400 551.25 L400.5 554.66 L401 550.8 L401.5 555.91 L402 551.85 L402.5 553.69 L403 551.13 L403.5 554.6 L404 551.14 L404.5 555.1 L405 554.35 L405.5 551.52 L406 554.48 L406.5 554.15 L407 551.59 L407.5 554.76 L408 550.94 L408.5 555.35 L409 551.89 L409.5 555.23 L410 552.13 L410.5 555.83 L411 551.16 L411.5 551.78 L412 554.13 L412.5 551.53 L413 555.27 L413.5 551.68 L414 554.17 L414.5 551.06 L415 551.01 L415.5 553.54 L416 550.43 L416.5 552.55 L417 555.73 L417.5 552.38 L418 554.15 L418.5 549.45 L419 555.04 L419.5 554.5 L420 551.76 L420.5 555 L421 551.49 L421.5 554.21 L422 551.07 L422.5 554.77 L423 550.22 L423.5 555.16 L424 550.82 L424.5 555.02 L425 551.55 L425.5 554.23 L426 551.16 L426.5 554.07 L427 550.79 L427.5 550.79 L428 551.34 L428.5 554.92 L429 551.46 L429.5 553.54 L430 553.54 L430.5 554.26 L431 551.47 L431.5 554.5 L432 551.35 L432.5 554.86 L433 551.43 L433.5 554.19 L434 553.85 L434.5 550.89 L435 553.87 L435.5 551.66 L436 554.5 L436.5 551 L437 554.2 L437.5 555.2 L438 554.05 L438.5 551.77 L439 556.08 L439.5 551.51 L440 554.59 L440.5 550.9 L441 551.54 L441.5 554.33 L442 551.69 L442.5 554.51 L443 550.77 L443.5 554.49 L444 555.2 L444.5 554.61 L445 550.99 L445.5 554.58 L446 551.87 L446.5 555.23 L447 551.73 L447.5 554.75 L448 551.4 L448.5 551.72 L449 554.62 L449.5 551.39" stroke="#46702E" stroke-width="2.45"/>
<path d="M59.5 549.04 L60 553.48 L60.5 549.57 L61 554.33 L61.5 550.84 L62 553.37 L62.5 550.37 L63 553.82 L63.5 550.04 L64 553.18 L64.5 549.35 L65 553.04 L65.5 553.24 L66 552.44 L66.5 549.92 L67 553.44 L67.5 549.34 L68 553.39 L68.5 549.24 L69 553.13 L69.5 552.07 L70 553.73 L70.5 549.95 L71 550.26 L71.5 553.45 L72 550.19 L72.5 550.02 L73 552.59 L73.5 552.08 L74 552.7 L74.5 549.94 L75 549.66 L75.5 553.61 L76 550.39 L76.5 550.34 L77 553.22 L77.5 549.67 L78 553.35 L78.5 549.66 L79 553.23 L79.5 553.71 L80 549.93 L80.5 553.35 L81 550.01 L81.5 553.47 L82 549.8 L82.5 550.45 L83 553.74 L83.5 549.88 L84 553.4 L84.5 550.66 L85 554.39 L85.5 550.47 L86 553.54 L86.5 550.79 L87 553.72 L87.5 550.92 L88 553.93 L88.5 551.09 L89 554.32 L89.5 554.4 L90 554.84 L90.5 551.52 L91 554.37 L91.5 550.2 L92 554.36 L92.5 549.69 L93 549.83 L93.5 553.47 L94 550.75 L94.5 553.68 L95 553.64 L95.5 550.22 L96 553.66 L96.5 549.87 L97 554.04 L97.5 550.98 L98 554.9 L98.5 550.72 L99 554.69 L99.5 550.81 L100 550 L100.5 550.58 L101 549.81 L101.5 553.66 L102 550.82 L102.5 554.26 L103 550.05 L103.5 549.64 L104 554.39 L104.5 550.35 L105 553.34 L105.5 550.89 L106 553.1 L106.5 550.24 L107 549.88 L107.5 551.52 L108 550.47 L108.5 554.56 L109 551.35 L109.5 555.06 L110 551.6 L110.5 556.13 L111 550.75 L111.5 553.22 L112 550.65 L112.5 554.08 L113 550.69 L113.5 552.69 L114 551.9 L114.5 550.85 L115 546.79 L115.5 542.1 L116 538.8 L116.5 535.09 L117 530.08 L117.5 527.26 L118 522.36 L118.5 519.46 L119 515.19 L119.5 511.69 L120 508.88 L120.5 504.64 L121 502.03 L121.5 497.76 L122 494.45 L122.5 491.34 L123 489.35 L123.5 484.86 L124 483.17 L124.5 479.67 L125 478.22 L125.5 474.89 L126 473.34 L126.5 470.36 L127 469.31 L127.5 466.43 L128 465.7 L128.5 463.19 L129 462.91 L129.5 460.78 L130 459.89 L130.5 459.47 L131 457.86 L131.5 458.18 L132 456.99 L132.5 457.45 L133 456.4 L133.5 457.25 L134 457.49 L134.5 456.89 L135 458.35 L135.5 459.07 L136 459.54 L136.5 461.2 L137 461.69 L137.5 463.83 L138 464.67 L138.5 466.88 L139 467.78 L139.5 470.66 L140 471.91 L140.5 474.77 L141 476.42 L141.5 479.57 L142 481.72 L142.5 485.21 L143 487.11 L143.5 490.74 L144 493.65 L144.5 495.64 L145 499.61 L145.5 501.9 L146 506.07 L146.5 508.38 L147 512.69 L147.5 515.41 L148 519.61 L148.5 522.45 L149 526.78 L149.5 529.3 L150 533.78 L150.5 536.43 L151 541.11 L151.5 543.69 L152 548.07 L152.5 550.59 L153 555.26 L153.5 557.72 L154 561.9 L154.5 565.22 L155 567.67 L155.5 571.99 L156 574.17 L156.5 578.31 L157 580.31 L157.5 584.01 L158 586.43 L158.5 590.01 L159 592.46 L159.5 594.25 L160 597.31 L160.5 598.58 L161 601.66 L161.5 602.51 L162 605.47 L162.5 606.25 L163 608.54 L163.5 609.27 L164 611.37 L164.5 611.79 L165 613.56 L165.5 613.5 L166 614.94 L166.5 614.58 L167 615.89 L167.5 615.18 L168 616.05 L168.5 614.99 L169 615.75 L169.5 614.71 L170 614.87 L170.5 613.41 L171 613.5 L171.5 612 L172 611.22 L172.5 611.09 L173 608.95 L173.5 607.93 L174 607.44 L174.5 605.01 L175 604.33 L175.5 601.99 L176 601.38 L176.5 598.63 L177 597.6 L177.5 594.96 L178 593.32 L178.5 592.08 L179 589.22 L179.5 587.91 L180 584.74 L180.5 583.13 L181 580.1 L181.5 578.7 L182 575.39 L182.5 573.76 L183 570.42 L183.5 569.15 L184 565.88 L184.5 563.3 L185 561.9 L185.5 558.4 L186 556.99 L186.5 553.78 L187 552.59 L187.5 549.28 L188 547.56 L188.5 544.33 L189 543.09 L189.5 540.11 L190 538.75 L190.5 536.01 L191 534.77 L191.5 531.77 L192 530.8 L192.5 528.31 L193 527.28 L193.5 524.97 L194 523.32 L194.5 522.72 L195 520.64 L195.5 520.32 L196 518.35 L196.5 518.32 L197 516.32 L197.5 516.24 L198 515.37 L198.5 513.84 L199 514.48 L199.5 513.02 L200 513.65 L200.5 512.71 L201 513.44 L201.5 512.44 L202 513.61 L202.5 512.77 L203 513.93 L203.5 513.42 L204 514.54 L204.5 514.16 L205 515.73 L205.5 515.26 L206 516.68 L206.5 516.52 L207 518.31 L207.5 518.14 L208 520.08 L208.5 520.17 L209 522 L209.5 522.15 L210 524.08 L210.5 523.74 L211 526.01 L211.5 527.12 L212 527.52 L212.5 529.8 L213 530.4 L213.5 532.49 L214 532.87 L214.5 535.01 L215 535.71 L215.5 537.21 L216 539.33 L216.5 540.03 L217 542.15 L217.5 542.94 L218 545.01 L218.5 545.72 L219 548.04 L219.5 548.49 L220 549.87 L220.5 551.49 L221 553.49 L221.5 554.22 L222 555.5 L222.5 557.55 L223 558.05 L223.5 559.89 L224 560.25 L224.5 562.46 L225 562.75 L225.5 564.51 L226 564.59 L226.5 566.56 L227 566.59 L227.5 568.48 L228 568.97 L228.5 568.93 L229 569.76 L229.5 570.29 L230 571.93 L230.5 571.34 L231 572.78 L231.5 572.31 L232 573.52 L232.5 572.35 L233 573.43 L233.5 572.92 L234 572.73 L234.5 574.04 L235 573.03 L235.5 573.62 L236 573.74 L236.5 572.58 L237 573.4 L237.5 572.27 L238 572.97 L238.5 571.53 L239 572.29 L239.5 570.98 L240 571.33 L240.5 570.08 L241 570.6 L241.5 569.2 L242 569.52 L242.5 568.11 L243 568.47 L243.5 567.93 L244 567.51 L244.5 566.84 L245 565.45 L245.5 564.59 L246 564.83 L246.5 563.31 L247 562.59 L247.5 562.44 L248 560.89 L248.5 561.21 L249 560.02 L249.5 560.27 L250 558.4 L250.5 558.64 L251 557.86 L251.5 556.19 L252 556.16 L252.5 554.76 L253 554.91 L253.5 553.08 L254 553.52 L254.5 551.97 L255 552.27 L255.5 550.8 L256 549.97 L256.5 550.04 L257 548.71 L257.5 548.92 L258 547.44 L258.5 547.71 L259 547.11 L259.5 545.89 L260 545.53 L260.5 545.9 L261 544.66 L261.5 545.06 L262 543.82 L262.5 544.4 L263 543.3 L263.5 543.64 L264 542.85 L264.5 543.44 L265 542.44 L265.5 542.21 L266 542.97 L266.5 541.84 L267 542.84 L267.5 541.72 L268 542.65 L268.5 541.78 L269 542.99 L269.5 542.44 L270 543.16 L270.5 542.5 L271 543.43 L271.5 543.47 L272 543.87 L272.5 543.23 L273 544.05 L273.5 543.55 L274 544.43 L274.5 544.01 L275 545.1 L275.5 545.35 L276 544.58 L276.5 545.76 L277 545.27 L277.5 546.73 L278 546.13 L278.5 547.08 L279 546.63 L279.5 546.64 L280 547.93 L280.5 547.26 L281 548.4 L281.5 548.11 L282 549.06 L282.5 548.69 L283 549.97 L283.5 549.61 L284 550.74 L284.5 550.03 L285 551.31 L285.5 550.23 L286 551.33 L286.5 551 L287 552.11 L287.5 552.38 L288 551.93 L288.5 553.1 L289 552.6 L289.5 553.74 L290 552.85 L290.5 553.96 L291 553.43 L291.5 554.57 L292 553.88 L292.5 554.78 L293 553.99 L293.5 554.16 L294 555.18 L294.5 554.51 L295 555.17 L295.5 554.17 L296 555.05 L296.5 554.24 L297 555.5 L297.5 555.35 L298 554.72 L298.5 555.52 L299 554.46 L299.5 555.34 L300 554.44 L300.5 555.29 L301 554.47 L301.5 555.42 L302 554.44 L302.5 554.26 L303 555.19 L303.5 554.26 L304 555.12 L304.5 555.11 L305 554.16 L305.5 555 L306 553.85 L306.5 553.87 L307 553.73 L307.5 553.81 L308 554.64 L308.5 553.58 L309 554.32 L309.5 553.37 L310 554.36 L310.5 553.28 L311 553.22 L311.5 553.91 L312 553 L312.5 553.82 L313 553.05 L313.5 553.78 L314 552.78 L314.5 553.36 L315 553.43 L315.5 552.39 L316 553.43 L316.5 552.42 L317 552.96 L317.5 553.02 L318 552.81 L318.5 552.14 L319 552.83 L319.5 552.79 L320 551.91 L320.5 553.76 L321 551.95 L321.5 550.4 L322 553.03 L322.5 550.15 L323 553.5 L323.5 550.32 L324 553.83 L324.5 553.36 L325 550.46 L325.5 553.48 L326 549.61 L326.5 552.73 L327 550.24 L327.5 553 L328 549.93 L328.5 552.74 L329 550.44 L329.5 553.55 L330 549.89 L330.5 552.91 L331 549.51 L331.5 549.12 L332 552.04 L332.5 549.23 L333 553.1 L333.5 549.91 L334 550.11 L334.5 553.06 L335 549.4 L335.5 551.85 L336 549.33 L336.5 552.64 L337 549.55 L337.5 552.62 L338 549.41 L338.5 552.57 L339 549.38 L339.5 553.61 L340 553.81 L340.5 553.45 L341 550.24 L341.5 554.46 L342 549.57 L342.5 553.59 L343 550.39 L343.5 552.97 L344 552.6 L344.5 550.18 L345 553.17 L345.5 550.29 L346 553.33 L346.5 550.37 L347 552.89 L347.5 549.95 L348 550.51 L348.5 553.37 L349 549.44 L349.5 553.06 L350 552.86 L350.5 549.1 L351 549.45 L351.5 552.73 L352 550.55 L352.5 549.6 L353 553.68 L353.5 552.7 L354 549.74 L354.5 553.84 L355 552.24 L355.5 549.66 L356 549.16 L356.5 552.57 L357 552.63 L357.5 548.89 L358 552.79 L358.5 549.15 L359 549.47 L359.5 552.96 L360 553.23 L360.5 549.46 L361 553.09 L361.5 548.2 L362 552.4 L362.5 548.64 L363 549.37 L363.5 552.23 L364 548.95 L364.5 552.89 L365 546.58 L365.5 549.21 L366 553.12 L366.5 549.83 L367 553.53 L367.5 549.77 L368 553.4 L368.5 550.59 L369 552.97 L369.5 549.73 L370 550.54 L370.5 553.59 L371 553.86 L371.5 553.55 L372 550.34 L372.5 553.35 L373 550.37 L373.5 553.65 L374 553.55 L374.5 549.61 L375 553.98 L375.5 549.65 L376 553.1 L376.5 549.86 L377 550.38 L377.5 552.42 L378 549.68 L378.5 552.26 L379 549.76 L379.5 551.6 L380 551.42 L380.5 555.1 L381 550.02 L381.5 553.27 L382 550.22 L382.5 553.09 L383 550.11 L383.5 550.62 L384 551.85 L384.5 550.62 L385 554.23 L385.5 549.92 L386 553.9 L386.5 549.87 L387 554.06 L387.5 549.98 L388 553.48 L388.5 550.87 L389 553.9 L389.5 550.64 L390 553.36 L390.5 550.83 L391 552.45 L391.5 550.19 L392 553.43 L392.5 549.37 L393 554.05 L393.5 550.59 L394 550.35 L394.5 550.46 L395 550.54 L395.5 553.46 L396 554.24 L396.5 550.34 L397 554.22 L397.5 550.97 L398 551.18 L398.5 554.26 L399 550.25 L399.5 554.43 L400 550.51 L400.5 551.09 L401 554.26 L401.5 550.44 L402 550.83 L402.5 553.78 L403 551.07 L403.5 554.2 L404 550.67 L404.5 550.66 L405 554.11 L405.5 550.66 L406 554.44 L406.5 554.58 L407 551.37 L407.5 553.93 L408 550.49 L408.5 553.79 L409 550.24 L409.5 554.16 L410 550.67 L410.5 553.8 L411 550.49 L411.5 554.76 L412 551.27 L412.5 553.86 L413 551.39 L413.5 554.45 L414 552.32 L414.5 554.48 L415 550.79 L415.5 553.76 L416 550.3 L416.5 553.88 L417 550.94 L417.5 551.18 L418 554.86 L418.5 550.85 L419 553.71 L419.5 554.27 L420 550.66 L420.5 554.88 L421 551.49 L421.5 554.6 L422 551.52 L422.5 554.19 L423 550.41 L423.5 550.77 L424 554.1 L424.5 551.35 L425 550.59 L425.5 553.86 L426 554.99 L426.5 551.39 L427 555 L427.5 551.49 L428 554.55 L428.5 554.83 L429 552.93 L429.5 553.39 L430 549.85 L430.5 553.34 L431 550.46 L431.5 555.25 L432 552 L432.5 555.6 L433 551.68 L433.5 553.96 L434 550.92 L434.5 554.73 L435 550.99 L435.5 551.27 L436 554.13 L436.5 554.06 L437 551.69 L437.5 555.19 L438 551.61 L438.5 555.69 L439 551.1 L439.5 550.96 L440 554.4 L440.5 550.53 L441 553.94 L441.5 551.24 L442 553.2 L442.5 549.71 L443 553.95 L443.5 549.9 L444 554.13 L444.5 551.31 L445 554.28 L445.5 549.12 L446 554.4 L446.5 551.62 L447 554.54 L447.5 551.28 L448 551.08 L448.5 558.03 L449 550.71 L449.5 554.65" stroke="#FFC000" stroke-width="2.45"/>
<path d="M59.5 551.61 L60 551.44 L60.5 554.48 L61 551.69 L61.5 555.07 L62 551.21 L62.5 553.96 L63 550.04 L63.5 552.54 L64 549.16 L64.5 552.75 L65 549.65 L65.5 553.1 L66 549.74 L66.5 553.41 L67 553.47 L67.5 550.58 L68 553.63 L68.5 549.69 L69 554.36 L69.5 549.87 L70 553.83 L70.5 551.63 L71 554.76 L71.5 551.52 L72 553.33 L72.5 550.05 L73 553.51 L73.5 550.26 L74 554.25 L74.5 549.84 L75 554.68 L75.5 551.52 L76 554.48 L76.5 550.76 L77 553.38 L77.5 550.78 L78 556.63 L78.5 549.63 L79 554.16 L79.5 550.49 L80 553.34 L80.5 550.81 L81 553.19 L81.5 549.86 L82 553.48 L82.5 549.74 L83 553.72 L83.5 549.71 L84 553.59 L84.5 550.01 L85 553.34 L85.5 550.81 L86 554.22 L86.5 550.1 L87 550.56 L87.5 554.39 L88 550.6 L88.5 553.68 L89 550.23 L89.5 553.19 L90 550.36 L90.5 550.89 L91 553.21 L91.5 550.55 L92 551.51 L92.5 551.24 L93 554.84 L93.5 551.33 L94 554.57 L94.5 550.58 L95 554.11 L95.5 550.53 L96 553.22 L96.5 549.95 L97 553.51 L97.5 550.29 L98 550.74 L98.5 553.3 L99 549.75 L99.5 553.63 L100 549.74 L100.5 554.38 L101 549.81 L101.5 553.98 L102 549.81 L102.5 550.22 L103 553.37 L103.5 549.83 L104 551.05 L104.5 553.92 L105 550.33 L105.5 554.19 L106 549.76 L106.5 554.38 L107 549.62 L107.5 552.59 L108 549.63 L108.5 550.22 L109 549.26 L109.5 553.71 L110 553.18 L110.5 553.42 L111 549.78 L111.5 553.74 L112 550.16 L112.5 553.87 L113 550.41 L113.5 552.33 L114 551.48 L114.5 550.33 L115 544.61 L115.5 540.21 L116 535.36 L116.5 529.31 L117 524.49 L117.5 520.59 L118 514.72 L118.5 510.97 L119 505.36 L119.5 501.65 L120 496.08 L120.5 492.62 L121 487.53 L121.5 484.13 L122 479.1 L122.5 476.13 L123 471.31 L123.5 467.68 L124 465.09 L124.5 461.19 L125 458.95 L125.5 455.17 L126 453.07 L126.5 449.48 L127 447.68 L127.5 444.75 L128 443.59 L128.5 440.86 L129 439.9 L129.5 438.71 L130 436.54 L130.5 435.34 L131 435.61 L131.5 434.02 L132 434.48 L132.5 433.71 L133 434.32 L133.5 433.52 L134 435.14 L134.5 434.85 L135 436.72 L135.5 437.01 L136 439.35 L136.5 440.02 L137 442.49 L137.5 443.65 L138 447 L138.5 448.63 L139 451.12 L139.5 453.87 L140 457.78 L140.5 459.87 L141 463.96 L141.5 466.36 L142 470.77 L142.5 473.63 L143 478.19 L143.5 481.51 L144 485.4 L144.5 490.39 L145 494.84 L145.5 498.64 L146 503.98 L146.5 507.51 L147 513.1 L147.5 516.78 L148 522.33 L148.5 526.24 L149 531.51 L149.5 535.51 L150 540.96 L150.5 545.78 L151 549.49 L151.5 554.21 L152 558.92 L152.5 564.22 L153 567.87 L153.5 573.21 L154 576.83 L154.5 581.67 L155 584.86 L155.5 588.73 L156 593.56 L156.5 596.65 L157 601.47 L157.5 604.83 L158 607.27 L158.5 611.53 L159 613.69 L159.5 617.27 L160 618.94 L160.5 622.49 L161 623.98 L161.5 626.89 L162 628.68 L162.5 629.6 L163 632.03 L163.5 632.35 L164 634.14 L164.5 635.04 L165 634.87 L165.5 635.31 L166 636.53 L166.5 635.5 L167 636.19 L167.5 635.1 L168 635.86 L168.5 635.08 L169 633.36 L169.5 633.55 L170 631.67 L170.5 630.87 L171 628.85 L171.5 628.01 L172 625.7 L172.5 624.85 L173 622.25 L173.5 620.29 L174 619.12 L174.5 616 L175 614.53 L175.5 611.21 L176 609.91 L176.5 606.31 L177 604.53 L177.5 600.89 L178 599.05 L178.5 595.85 L179 592.19 L179.5 589.85 L180 585.84 L180.5 583.68 L181 579.91 L181.5 577.73 L182 573.81 L182.5 571.19 L183 566.99 L183.5 564.64 L184 560.61 L184.5 558.59 L185 554.37 L185.5 550.98 L186 549.25 L186.5 545.16 L187 543.24 L187.5 539.45 L188 537.41 L188.5 533.84 L189 531.21 L189.5 528.57 L190 526.76 L190.5 523.35 L191 522.38 L191.5 519.3 L192 518.04 L192.5 514.63 L193 513.65 L193.5 512.1 L194 509.48 L194.5 507.87 L195 507.49 L195.5 505.23 L196 504.93 L196.5 503.12 L197 503.3 L197.5 501.77 L198 502.09 L198.5 500.73 L199 501.54 L199.5 500.38 L200 501.26 L200.5 500.36 L201 502.07 L201.5 502.62 L202 501.97 L202.5 502.86 L203 502.86 L203.5 504.26 L204 505.3 L204.5 505.43 L205 507.55 L205.5 507.66 L206 509.68 L206.5 510.15 L207 512.19 L207.5 512.73 L208 515.17 L208.5 515.78 L209 518.3 L209.5 519.18 L210 521.82 L210.5 522.94 L211 525.52 L211.5 526.48 L212 528.52 L212.5 531.48 L213 533.21 L213.5 535.37 L214 536.47 L214.5 539.35 L215 540.74 L215.5 543.78 L216 544.86 L216.5 546.96 L217 549.84 L217.5 550.94 L218 554.04 L218.5 555.02 L219 557.08 L219.5 559.93 L220 561.01 L220.5 562.97 L221 565.56 L221.5 566.73 L222 569.4 L222.5 569.92 L223 572.53 L223.5 573.12 L224 575.49 L224.5 576.09 L225 577.46 L225.5 579.56 L226 579.84 L226.5 581.98 L227 583.04 L227.5 582.92 L228 584.68 L228.5 584.62 L229 585.34 L229.5 586.69 L230 586.42 L230.5 586.74 L231 587.98 L231.5 586.97 L232 587.93 L232.5 586.9 L233 587.68 L233.5 586.83 L234 587.45 L234.5 586.13 L235 586.6 L235.5 585.37 L236 585.66 L236.5 584.37 L237 584.71 L237.5 582.93 L238 583.07 L238.5 581.48 L239 581.44 L239.5 579.81 L240 578.68 L240.5 577.41 L241 577.15 L241.5 575.38 L242 575.04 L242.5 573.23 L243 572.9 L243.5 570.74 L244 570.43 L244.5 569.18 L245 566.95 L245.5 566.51 L246 564.47 L246.5 563.98 L247 561.8 L247.5 561.1 L248 559.84 L248.5 557.67 L249 557.17 L249.5 554.92 L250 554.57 L250.5 552.21 L251 551.74 L251.5 549.71 L252 549.29 L252.5 547.65 L253 547.41 L253.5 545.36 L254 545.01 L254.5 542.96 L255 542.62 L255.5 541.01 L256 541.01 L256.5 539.06 L257 538.31 L257.5 538.39 L258 536.78 L258.5 537.11 L259 535.57 L259.5 535.96 L260 534.83 L260.5 535.16 L261 534.17 L261.5 534.83 L262 533.6 L262.5 534.39 L263 533.63 L263.5 534.54 L264 533.68 L264.5 533.88 L265 534.61 L265.5 533.88 L266 535.19 L266.5 534.54 L267 535.38 L267.5 534.75 L268 536.15 L268.5 535.42 L269 536.94 L269.5 536.25 L270 537.48 L270.5 537.25 L271 538.4 L271.5 538.12 L272 538.77 L272.5 539.35 L273 540.73 L273.5 540.23 L274 541.68 L274.5 542.61 L275 542.06 L275.5 543.77 L276 543.54 L276.5 544.89 L277 544.97 L277.5 546.31 L278 546.13 L278.5 547.82 L279 547.41 L279.5 547.94 L280 549.95 L280.5 549.58 L281 551.17 L281.5 551.04 L282 552.37 L282.5 552.19 L283 553.83 L283.5 553.49 L284 555.1 L284.5 555.55 L285 555.32 L285.5 556.9 L286 556.44 L286.5 557.74 L287 557.54 L287.5 558.94 L288 559.22 L288.5 558.73 L289 560.1 L289.5 560.45 L290 559.92 L290.5 560.19 L291 561.46 L291.5 560.7 L292 561.96 L292.5 561.05 L293 561.16 L293.5 562.14 L294 561.66 L294.5 562.4 L295 561.67 L295.5 562.4 L296 561.43 L296.5 562.3 L297 562.37 L297.5 561.22 L298 562.1 L298.5 561.9 L299 561.06 L299.5 561.83 L300 561.01 L300.5 561.7 L301 560.69 L301.5 561.33 L302 560.49 L302.5 561.16 L303 560.94 L303.5 559.89 L304 560.44 L304.5 559.67 L305 560.17 L305.5 559.02 L306 559.67 L306.5 559.51 L307 559.16 L307.5 558.07 L308 558.9 L308.5 557.79 L309 558.16 L309.5 557.29 L310 557.64 L310.5 556.71 L311 557.16 L311.5 556.93 L312 555.87 L312.5 556.32 L313 555.41 L313.5 555.85 L314 554.89 L314.5 555.74 L315 554.38 L315.5 554.06 L316 553.89 L316.5 554.22 L317 553.05 L317.5 553.86 L318 553.62 L318.5 553.29 L319 552.29 L319.5 553.04 L320 551.85 L320.5 553.62 L321 550.4 L321.5 553.11 L322 549.25 L322.5 552.58 L323 552.38 L323.5 552.1 L324 548.88 L324.5 552.07 L325 548.61 L325.5 554.23 L326 548.45 L326.5 551.55 L327 547.57 L327.5 548.2 L328 551.77 L328.5 548.73 L329 551.87 L329.5 547.92 L330 548.03 L330.5 551.74 L331 548.87 L331.5 551.27 L332 548.94 L332.5 547.71 L333 551.97 L333.5 548.88 L334 548.17 L334.5 552.26 L335 548.35 L335.5 550.59 L336 547.09 L336.5 551.25 L337 548.6 L337.5 553.06 L338 552.61 L338.5 547.05 L339 550.58 L339.5 551.2 L340 548.49 L340.5 551.31 L341 548.82 L341.5 551.23 L342 548.08 L342.5 551.51 L343 552.06 L343.5 545.87 L344 552.28 L344.5 548.1 L345 551.34 L345.5 549 L346 551.48 L346.5 548.05 L347 551.58 L347.5 547.9 L348 551.41 L348.5 548.44 L349 552.44 L349.5 548.89 L350 552.15 L350.5 550.77 L351 551.46 L351.5 548.81 L352 551.41 L352.5 548.14 L353 551.62 L353.5 548.09 L354 551.59 L354.5 549.11 L355 552.53 L355.5 548.85 L356 551.76 L356.5 548.32 L357 551.04 L357.5 547.42 L358 551.91 L358.5 547.6 L359 547.69 L359.5 551.99 L360 549.35 L360.5 551.89 L361 548.76 L361.5 552.29 L362 549.46 L362.5 551.65 L363 549.41 L363.5 548.74 L364 549.1 L364.5 551.91 L365 548.43 L365.5 551.64 L366 548.36 L366.5 548.16 L367 551.24 L367.5 547.82 L368 552.18 L368.5 549.62 L369 552.01 L369.5 548.79 L370 549.56 L370.5 552.13 L371 549.33 L371.5 553.07 L372 551.69 L372.5 552.46 L373 554.54 L373.5 552.34 L374 549.56 L374.5 552.27 L375 549.22 L375.5 553.25 L376 549.95 L376.5 549.94 L377 552.23 L377.5 549.38 L378 553.39 L378.5 549.05 L379 552.39 L379.5 549.49 L380 549.3 L380.5 553.34 L381 550.03 L381.5 553.52 L382 552.92 L382.5 549.08 L383 550.06 L383.5 550.1 L384 553.1 L384.5 549.49 L385 549.51 L385.5 553.72 L386 550 L386.5 553.49 L387 549.97 L387.5 549.75 L388 552.22 L388.5 552.67 L389 552.32 L389.5 549.51 L390 553.2 L390.5 550.15 L391 553.88 L391.5 553.93 L392 549.63 L392.5 553.82 L393 550.13 L393.5 556.2 L394 552.89 L394.5 553.2 L395 550.45 L395.5 554.07 L396 550.71 L396.5 553.43 L397 550.04 L397.5 549.73 L398 554.13 L398.5 551.75 L399 553.78 L399.5 550.44 L400 553.11 L400.5 549.62 L401 550.21 L401.5 554.26 L402 550.7 L402.5 554.01 L403 550.43 L403.5 553.35 L404 551.14 L404.5 553.82 L405 550.94 L405.5 550.29 L406 553.64 L406.5 550.05 L407 548.97 L407.5 554.16 L408 550.76 L408.5 554.16 L409 550.82 L409.5 554.02 L410 550.69 L410.5 554.56 L411 550.21 L411.5 554.78 L412 553.86 L412.5 550.6 L413 550.91 L413.5 554.08 L414 554.15 L414.5 550.73 L415 554.69 L415.5 552.4 L416 552.25 L416.5 555.21 L417 550.84 L417.5 554.8 L418 551.52 L418.5 553.82 L419 551.18 L419.5 554.9 L420 554.8 L420.5 553.97 L421 554.94 L421.5 551 L422 553.91 L422.5 550.6 L423 553.94 L423.5 551.23 L424 556.85 L424.5 550.64 L425 555.02 L425.5 555.1 L426 551.52 L426.5 555.2 L427 550.82 L427.5 554.18 L428 554.29 L428.5 550.98 L429 554.11 L429.5 551.71 L430 553.53 L430.5 550.99 L431 554.42 L431.5 551.17 L432 553.31 L432.5 550.89 L433 554.49 L433.5 553.32 L434 554.6 L434.5 551.4 L435 555.15 L435.5 554.96 L436 551.98 L436.5 551.3 L437 555.2 L437.5 554.89 L438 551.99 L438.5 554.28 L439 551.39 L439.5 555.39 L440 551.32 L440.5 555 L441 551.82 L441.5 554.57 L442 551.11 L442.5 555.14 L443 551.03 L443.5 554.4 L444 551.26 L444.5 555.88 L445 556.21 L445.5 552.13 L446 552.64 L446.5 555.62 L447 555.18 L447.5 552.08 L448 555.26 L448.5 550.95 L449 555.31 L449.5 551.87" stroke="#5B9BD5" stroke-width="2.45"/>
<path d="M59.5 552.62 L60 553.81 L60.5 550.42 L61 554.04 L61.5 550.77 L62 550.14 L62.5 554.06 L63 550 L63.5 552.65 L64 548.95 L64.5 552.78 L65 549.56 L65.5 553.46 L66 550.01 L66.5 552.39 L67 550.08 L67.5 553.31 L68 553.15 L68.5 550.72 L69 549.6 L69.5 554.34 L70 550.86 L70.5 553.86 L71 554.36 L71.5 550.47 L72 553.23 L72.5 549.84 L73 553.76 L73.5 550.18 L74 554.11 L74.5 550.06 L75 553.75 L75.5 550.74 L76 552.34 L76.5 550.04 L77 553.09 L77.5 549.93 L78 552.39 L78.5 549.99 L79 554.25 L79.5 549.9 L80 553.21 L80.5 550.69 L81 552.91 L81.5 550.01 L82 552.63 L82.5 549.35 L83 552.69 L83.5 553.84 L84 550.62 L84.5 553.73 L85 554.04 L85.5 550.6 L86 554.35 L86.5 550.6 L87 553.14 L87.5 549.19 L88 553.9 L88.5 549.99 L89 550.94 L89.5 550.62 L90 553.56 L90.5 550.02 L91 550.36 L91.5 549.81 L92 552.05 L92.5 549.73 L93 554.23 L93.5 547.78 L94 554.27 L94.5 554.29 L95 551.3 L95.5 550.54 L96 554.28 L96.5 554.48 L97 549.4 L97.5 553.15 L98 549.67 L98.5 549.95 L99 555.73 L99.5 553.51 L100 550.79 L100.5 553.78 L101 549.7 L101.5 553.3 L102 549.61 L102.5 554.25 L103 550.01 L103.5 553.5 L104 551.5 L104.5 552.84 L105 549.74 L105.5 553.59 L106 551.35 L106.5 554.59 L107 551.12 L107.5 554.06 L108 550.61 L108.5 552.93 L109 549.59 L109.5 553.55 L110 553.55 L110.5 548.95 L111 554.31 L111.5 549.63 L112 554.21 L112.5 549.82 L113 556.21 L113.5 551.58 L114 552.23 L114.5 549.77 L115 543.87 L115.5 536.91 L116 532.13 L116.5 525.57 L117 520.71 L117.5 513.83 L118 509.17 L118.5 502.59 L119 497.98 L119.5 491.72 L120 487.49 L120.5 481.4 L121 476.77 L121.5 471.11 L122 467.39 L122.5 462.05 L123 458.42 L123.5 453.14 L124 449.88 L124.5 445.45 L125 442.75 L125.5 438.34 L126 434.73 L126.5 432.54 L127 428.79 L127.5 426.96 L128 424.74 L128.5 421.3 L129 420.23 L129.5 417.63 L130 417.31 L130.5 415.41 L131 415.31 L131.5 413.53 L132 414.24 L132.5 413.21 L133 413.97 L133.5 413.35 L134 414.12 L134.5 415.75 L135 416.17 L135.5 417.54 L136 420.03 L136.5 421.08 L137 423.17 L137.5 426.87 L138 428.61 L138.5 431.65 L139 435.67 L139.5 437.81 L140 442.34 L140.5 445.27 L141 449.16 L141.5 453.97 L142 457.72 L142.5 463.04 L143 466.79 L143.5 472.42 L144 476.43 L144.5 482.52 L145 487.72 L145.5 492.04 L146 498.36 L146.5 502.91 L147 509.28 L147.5 513.91 L148 520.51 L148.5 525.45 L149 530.89 L149.5 537.95 L150 542.55 L150.5 549.08 L151 553.56 L151.5 560.21 L152 564.83 L152.5 571.01 L153 575.67 L153.5 581.82 L154 586.32 L154.5 591.45 L155 597.01 L155.5 601.24 L156 606.57 L156.5 610.03 L157 615.11 L157.5 619.12 L158 622.4 L158.5 626.98 L159 629.42 L159.5 633.77 L160 635.84 L160.5 639.69 L161 642.26 L161.5 643.77 L162 646.6 L162.5 647.92 L163 650.39 L163.5 650.99 L164 652.94 L164.5 652.6 L165 653.95 L165.5 653.64 L166 654.57 L166.5 653.33 L167 653.82 L167.5 652.6 L168 652.71 L168.5 650.8 L169 650.58 L169.5 648.33 L170 647.61 L170.5 645.01 L171 644.04 L171.5 641.31 L172 639.92 L172.5 636.67 L173 635.15 L173.5 631.47 L174 629.85 L174.5 626.03 L175 623.68 L175.5 620.69 L176 617.42 L176.5 613.11 L177 610.64 L177.5 605.85 L178 603.05 L178.5 598.64 L179 594.55 L179.5 591.57 L180 586.82 L180.5 583.45 L181 579.75 L181.5 574.67 L182 571.7 L182.5 566.86 L183 563.73 L183.5 558.85 L184 555.93 L184.5 551.22 L185 548.09 L185.5 543.41 L186 540.62 L186.5 536.74 L187 532.29 L187.5 529.56 L188 525.35 L188.5 522.83 L189 518.84 L189.5 516.6 L190 512.82 L190.5 510.77 L191 507.4 L191.5 505.63 L192 502.62 L192.5 500.91 L193 498.11 L193.5 497.1 L194 495.53 L194.5 493 L195 492.57 L195.5 491.59 L196 489.71 L196.5 489.2 L197 489.29 L197.5 487.81 L198 488.35 L198.5 487.73 L199 488.66 L199.5 487.9 L200 489.31 L200.5 488.83 L201 490.47 L201.5 490.32 L202 492.02 L202.5 491.95 L203 494.24 L203.5 494.43 L204 496.67 L204.5 498.52 L205 499.24 L205.5 501.54 L206 502.31 L206.5 505 L207 506.09 L207.5 509.02 L208 510.38 L208.5 512.12 L209 515.5 L209.5 516.69 L210 519.29 L210.5 522.7 L211 524.7 L211.5 528.07 L212 530.72 L212.5 532.05 L213 534.81 L213.5 537.56 L214 541.05 L214.5 542.91 L215 546.38 L215.5 548.19 L216 551.7 L216.5 553.4 L217 555.97 L217.5 558.59 L218 561.15 L218.5 564.59 L219 565.99 L219.5 569.52 L220 571.77 L220.5 573.1 L221 576.15 L221.5 577.38 L222 580.16 L222.5 581.32 L223 583.99 L223.5 584.91 L224 587.55 L224.5 588.07 L225 590.31 L225.5 591.01 L226 592.93 L226.5 593.08 L227 594.16 L227.5 596.12 L228 595.76 L228.5 597.44 L229 596.97 L229.5 597.31 L230 598.26 L230.5 597.44 L231 598.52 L231.5 597.38 L232 598.05 L232.5 597.75 L233 596.71 L233.5 596.97 L234 596.31 L234.5 595.23 L235 594.49 L235.5 594.65 L236 592.99 L236.5 592.98 L237 590.85 L237.5 590.58 L238 588.56 L238.5 588.1 L239 586.23 L239.5 584.72 L240 583.48 L240.5 582.76 L241 580.64 L241.5 579.89 L242 577.33 L242.5 576.87 L243 575.07 L243.5 572.74 L244 571.89 L244.5 569.22 L245 568.29 L245.5 566.02 L246 565.21 L246.5 562.47 L247 561.85 L247.5 560.21 L248 557.32 L248.5 556.49 L249 554.69 L249.5 552.08 L250 551.4 L250.5 549.05 L251 548.39 L251.5 545.95 L252 545.4 L252.5 543.02 L253 542.58 L253.5 540.38 L254 539.87 L254.5 537.89 L255 537.58 L255.5 535.48 L256 535.61 L256.5 533.65 L257 533.75 L257.5 532.15 L258 532.28 L258.5 530.57 L259 530.82 L259.5 529.62 L260 529.37 L260.5 529.67 L261 528.8 L261.5 528.7 L262 529.58 L262.5 528.68 L263 529.44 L263.5 528.52 L264 529.57 L264.5 529.12 L265 529.26 L265.5 530.44 L266 530.99 L266.5 530.26 L267 531.69 L267.5 531.11 L268 532.4 L268.5 532.18 L269 533.68 L269.5 533.37 L270 534.95 L270.5 534.58 L271 536.05 L271.5 535.78 L272 537.4 L272.5 537.19 L273 538.85 L273.5 540.08 L274 539.84 L274.5 540.73 L275 542.68 L275.5 542.65 L276 544.26 L276.5 544.24 L277 546.06 L277.5 545.93 L278 547.86 L278.5 547.64 L279 548.59 L279.5 550.44 L280 551.08 L280.5 552.9 L281 552.92 L281.5 554.24 L282 554.21 L282.5 556.09 L283 556.03 L283.5 557.71 L284 557.62 L284.5 559.36 L285 559.05 L285.5 560.75 L286 560.58 L286.5 562.05 L287 561.66 L287.5 563.28 L288 563.64 L288.5 563.33 L289 564.93 L289.5 564.41 L290 565.56 L290.5 565.13 L291 566.29 L291.5 565.88 L292 566.75 L292.5 566.31 L293 567.08 L293.5 566.34 L294 566.65 L294.5 567.31 L295 566.43 L295.5 567.44 L296 566.51 L296.5 567.43 L297 566.17 L297.5 566.98 L298 566.04 L298.5 566.88 L299 565.73 L299.5 566.47 L300 565.4 L300.5 566.11 L301 565.2 L301.5 565.53 L302 564.7 L302.5 565.04 L303 564 L303.5 564.56 L304 563.4 L304.5 563.84 L305 562.82 L305.5 563.35 L306 562.87 L306.5 561.63 L307 562.09 L307.5 561 L308 561.59 L308.5 560.34 L309 560.87 L309.5 560.52 L310 559.67 L310.5 559.13 L311 559.05 L311.5 558.09 L312 557.58 L312.5 557.16 L313 557.54 L313.5 556.37 L314 556.79 L314.5 556.53 L315 555.14 L315.5 554.76 L316 554.4 L316.5 554.88 L317 553.59 L317.5 554.15 L318 553.42 L318.5 553.82 L319 552.8 L319.5 552.83 L320 551.75 L320.5 553.73 L321 549.56 L321.5 552.97 L322 550.19 L322.5 552.63 L323 549.26 L323.5 552.26 L324 548.45 L324.5 551.78 L325 548.7 L325.5 551.86 L326 552.25 L326.5 548.27 L327 548.33 L327.5 553.27 L328 547.98 L328.5 552.27 L329 550.91 L329.5 547.35 L330 550.93 L330.5 547.11 L331 551.37 L331.5 548.02 L332 554.58 L332.5 548.43 L333 552.03 L333.5 551.89 L334 548.25 L334.5 548.34 L335 551.47 L335.5 548.13 L336 551.59 L336.5 548.35 L337 551.39 L337.5 548.7 L338 552.33 L338.5 553.18 L339 551.48 L339.5 548.12 L340 552.14 L340.5 549.64 L341 552.6 L341.5 549.11 L342 550.88 L342.5 547.8 L343 550.87 L343.5 547.04 L344 550.51 L344.5 548.04 L345 547.87 L345.5 552.22 L346 548.77 L346.5 551.83 L347 547.93 L347.5 551.06 L348 547.26 L348.5 550.94 L349 547.57 L349.5 550.67 L350 548.89 L350.5 551.64 L351 548.25 L351.5 551.4 L352 548.18 L352.5 551.89 L353 548.49 L353.5 552.2 L354 548.97 L354.5 552.01 L355 548.78 L355.5 551.92 L356 551.7 L356.5 548.67 L357 551.68 L357.5 548.45 L358 552.1 L358.5 552.63 L359 549.36 L359.5 552.1 L360 548.55 L360.5 552.35 L361 548.69 L361.5 551.75 L362 548.81 L362.5 549.51 L363 550.77 L363.5 549.24 L364 552.73 L364.5 552.83 L365 549.21 L365.5 551.28 L366 547.68 L366.5 548.45 L367 552.75 L367.5 548.48 L368 552.01 L368.5 549.24 L369 552.09 L369.5 549.04 L370 553 L370.5 551.89 L371 548.65 L371.5 553.14 L372 552.4 L372.5 548.76 L373 552.93 L373.5 549.17 L374 552.08 L374.5 547.99 L375 551.94 L375.5 547.92 L376 552.3 L376.5 549.41 L377 553.19 L377.5 549.43 L378 552.34 L378.5 548.89 L379 552.89 L379.5 548.91 L380 553.06 L380.5 553.35 L381 553.14 L381.5 549.64 L382 553.51 L382.5 549.51 L383 553.18 L383.5 547.45 L384 549.09 L384.5 550.69 L385 552.49 L385.5 549.79 L386 552.76 L386.5 550.19 L387 552.58 L387.5 549.21 L388 552.76 L388.5 550.19 L389 549.82 L389.5 552.81 L390 549.57 L390.5 552.7 L391 549.68 L391.5 553.25 L392 549.77 L392.5 553.94 L393 550.22 L393.5 553.56 L394 550.74 L394.5 550.36 L395 553.5 L395.5 550.27 L396 551.68 L396.5 550.77 L397 554 L397.5 550.06 L398 550.24 L398.5 553.27 L399 553.99 L399.5 550.14 L400 553.41 L400.5 555.31 L401 550.78 L401.5 553.98 L402 548.54 L402.5 555 L403 551.39 L403.5 551.38 L404 550.61 L404.5 554.2 L405 551.01 L405.5 554.15 L406 550.44 L406.5 553.62 L407 550.26 L407.5 554.29 L408 551.03 L408.5 553.37 L409 550.7 L409.5 554.16 L410 550.98 L410.5 550.11 L411 554.39 L411.5 551.56 L412 555.47 L412.5 551.11 L413 555.07 L413.5 551.2 L414 554.73 L414.5 550.66 L415 553.61 L415.5 551.4 L416 554.54 L416.5 551.47 L417 554.15 L417.5 551.33 L418 554.83 L418.5 550.53 L419 556.69 L419.5 552.08 L420 554.04 L420.5 550.98 L421 551.6 L421.5 553.69 L422 550.43 L422.5 551.45 L423 554.38 L423.5 551.43 L424 553.85 L424.5 554.25 L425 553.18 L425.5 550.53 L426 553.83 L426.5 555.05 L427 551.68 L427.5 555.17 L428 551.31 L428.5 554.31 L429 554.27 L429.5 551.62 L430 554.02 L430.5 551.75 L431 551.68 L431.5 554.15 L432 551.06 L432.5 553.92 L433 551.71 L433.5 554.75 L434 550.21 L434.5 554.32 L435 550.59 L435.5 555.02 L436 554.55 L436.5 551.51 L437 554.86 L437.5 551.27 L438 551.7 L438.5 555.07 L439 551.63 L439.5 554.18 L440 551.72 L440.5 554.38 L441 552.54 L441.5 555.77 L442 551.95 L442.5 555.82 L443 552.44 L443.5 554.61 L444 551.3 L444.5 551.01 L445 554.27 L445.5 550.76 L446 554.42 L446.5 550.85 L447 554.13 L447.5 551.11 L448 555.21 L448.5 551.61 L449 554.95 L449.5 551.03" stroke="#70AD47" stroke-width="2.45"/>
<path d="M59.5 550.65 L60 553.94 L60.5 550.49 L61 549.6 L61.5 550.12 L62 553.97 L62.5 550.05 L63 554.38 L63.5 550.74 L64 553.56 L64.5 550.2 L65 553.85 L65.5 550.62 L66 553.98 L66.5 551.21 L67 551.52 L67.5 550.67 L68 550.33 L68.5 553.77 L69 550.52 L69.5 550.69 L70 553.51 L70.5 550.86 L71 553.43 L71.5 551.03 L72 554.67 L72.5 551.11 L73 554.65 L73.5 549.64 L74 553.08 L74.5 550.8 L75 554.39 L75.5 550.34 L76 554.04 L76.5 549.72 L77 553.9 L77.5 550.14 L78 554.15 L78.5 549.79 L79 550.86 L79.5 554.35 L80 550.04 L80.5 553.54 L81 550.65 L81.5 549.75 L82 554 L82.5 550.04 L83 553.56 L83.5 550.64 L84 549.77 L84.5 553.64 L85 550.58 L85.5 553.91 L86 550.25 L86.5 554.25 L87 554.66 L87.5 551.24 L88 551.5 L88.5 554.05 L89 550.06 L89.5 553.57 L90 550.51 L90.5 553.15 L91 550.36 L91.5 549.71 L92 553.6 L92.5 553.33 L93 549.77 L93.5 553.13 L94 553.51 L94.5 550.77 L95 553.3 L95.5 549.86 L96 554.24 L96.5 553.67 L97 550.34 L97.5 553.64 L98 553.76 L98.5 553.12 L99 548.92 L99.5 553.3 L100 550.15 L100.5 554.18 L101 553.6 L101.5 549.92 L102 554.15 L102.5 551.14 L103 550.24 L103.5 553.2 L104 550.78 L104.5 553.46 L105 553.54 L105.5 550.9 L106 554 L106.5 550.29 L107 553.37 L107.5 553.33 L108 550.82 L108.5 554.19 L109 554.04 L109.5 549.62 L110 555.08 L110.5 550.93 L111 554.05 L111.5 550.81 L112 554.79 L112.5 550.36 L113 554.01 L113.5 551.67 L114 552.58 L114.5 549.05 L115 543.06 L115.5 536.59 L116 529.32 L116.5 523.46 L117 517.18 L117.5 509.63 L118 504.19 L118.5 497.05 L119 491.8 L119.5 485.46 L120 480.43 L120.5 473.73 L121 468.94 L121.5 462.7 L122 458.26 L122.5 452.18 L123 447.42 L123.5 443.58 L124 437.93 L124.5 433.62 L125 429.44 L125.5 426.68 L126 422.18 L126.5 419.49 L127 415.39 L127.5 412.63 L128 410.87 L128.5 407.37 L129 405.17 L129.5 404.45 L130 401.82 L130.5 400.65 L131 400.27 L131.5 398.8 L132 399.13 L132.5 398.2 L133 399.27 L133.5 398.69 L134 400.35 L134.5 401.36 L135 401.78 L135.5 404.09 L136 405.31 L136.5 407.99 L137 409.67 L137.5 413.16 L138 416.14 L138.5 418.49 L139 422.85 L139.5 425.7 L140 430.6 L140.5 433.85 L141 439.13 L141.5 443.17 L142 448.82 L142.5 452.94 L143 458.64 L143.5 464.09 L144 468.74 L144.5 475.34 L145 480.74 L145.5 487.41 L146 492.74 L146.5 499.62 L147 504.76 L147.5 511.98 L148 517.38 L148.5 524.55 L149 529.82 L149.5 537.29 L150 542.46 L150.5 549.84 L151 555.11 L151.5 562.38 L152 568.33 L152.5 574.35 L153 579.64 L153.5 586.35 L154 592.17 L154.5 597.66 L155 603.34 L155.5 607.64 L156 613.72 L156.5 617.88 L157 623.32 L157.5 627.18 L158 632.38 L158.5 635.3 L159 640.08 L159.5 642.85 L160 646.95 L160.5 649.47 L161 653.08 L161.5 654.82 L162 657.98 L162.5 659.25 L163 662.34 L163.5 662.97 L164 664.82 L164.5 664.83 L165 666.06 L165.5 665.49 L166 666.42 L166.5 666.04 L167 664.83 L167.5 664.22 L168 663.29 L168.5 663.02 L169 660.89 L169.5 660.07 L170 657.45 L170.5 656.41 L171 653.56 L171.5 652.12 L172 648.88 L172.5 646.95 L173 644.11 L173.5 640.67 L174 636.81 L174.5 633.37 L175 630.61 L175.5 626.4 L176 623.2 L176.5 618.71 L177 615.61 L177.5 610.63 L178 607.21 L178.5 601.85 L179 598.64 L179.5 594.22 L180 588.84 L180.5 585.19 L181 579.8 L181.5 576.13 L182 570.68 L182.5 566.72 L183 561.27 L183.5 557.4 L184 552.23 L184.5 548.87 L185 543.33 L185.5 539.93 L186 534.99 L186.5 531.49 L187 526.52 L187.5 523.51 L188 518.73 L188.5 515.88 L189 511.38 L189.5 508.6 L190 504.44 L190.5 501.94 L191 498.05 L191.5 495.96 L192 493.4 L192.5 489.89 L193 488.5 L193.5 486.5 L194 483.52 L194.5 482.76 L195 480.14 L195.5 479.76 L196 477.52 L196.5 477.98 L197 477.08 L197.5 476.82 L198 475.54 L198.5 476.41 L199 475.8 L199.5 475.92 L200 477.21 L200.5 477.02 L201 478.88 L201.5 478.82 L202 480.71 L202.5 481.24 L203 483.44 L203.5 484.99 L204 486.42 L204.5 487.48 L205 490.27 L205.5 491.49 L206 493.62 L206.5 496.81 L207 498.11 L207.5 501.43 L208 503.39 L208.5 506.66 L209 508.78 L209.5 512.47 L210 514.61 L210.5 517.46 L211 521.51 L211.5 523.56 L212 527.69 L212.5 530 L213 534.1 L213.5 537.23 L214 539.67 L214.5 543.65 L215 545.87 L215.5 550.14 L216 552.32 L216.5 555.81 L217 559.71 L217.5 561.85 L218 565.9 L218.5 568.17 L219 572.04 L219.5 574.01 L220 577.73 L220.5 579.41 L221 582.99 L221.5 584.36 L222 587.76 L222.5 590.13 L223 592.18 L223.5 593.39 L224 595.6 L224.5 598.21 L225 599.04 L225.5 601.3 L226 602.15 L226.5 604.14 L227 605.25 L227.5 605.37 L228 606.4 L228.5 607.76 L229 607.39 L229.5 608.73 L230 608.1 L230.5 609.05 L231 608.06 L231.5 607.85 L232 607.34 L232.5 607.99 L233 606.72 L233.5 605.99 L234 606.06 L234.5 604.44 L235 604.34 L235.5 602.51 L236 601.47 L236.5 601.17 L237 598.93 L237.5 598.27 L238 596.9 L238.5 594.5 L239 593.53 L239.5 591.21 L240 590.41 L240.5 587.45 L241 586.63 L241.5 583.88 L242 582.59 L242.5 579.69 L243 578.81 L243.5 576.86 L244 573.81 L244.5 572.39 L245 569.33 L245.5 568.12 L246 564.93 L246.5 563.76 L247 560.66 L247.5 559.62 L248 556.7 L248.5 555.49 L249 552.37 L249.5 551.39 L250 548.22 L250.5 547.08 L251 544.38 L251.5 543.41 L252 540.83 L252.5 539.15 L253 538.57 L253.5 535.95 L254 535.53 L254.5 533.47 L255 533.09 L255.5 530.92 L256 530.89 L256.5 528.78 L257 528.77 L257.5 527.93 L258 526.26 L258.5 526.51 L259 525.18 L259.5 526.06 L260 524.8 L260.5 524.64 L261 525.55 L261.5 524.64 L262 525.39 L262.5 525.8 L263 525.11 L263.5 526.19 L264 525.46 L264.5 526.57 L265 526.03 L265.5 527.55 L266 527.06 L266.5 527.58 L267 529.02 L267.5 528.53 L268 530.04 L268.5 529.86 L269 531.56 L269.5 532.29 L270 532.17 L270.5 534.02 L271 533.93 L271.5 535.58 L272 535.58 L272.5 537.43 L273 537.41 L273.5 539.36 L274 539.55 L274.5 541.75 L275 542.82 L275.5 543.66 L276 543.85 L276.5 544.88 L277 545.97 L277.5 548.02 L278 547.76 L278.5 549.77 L279 550.71 L279.5 551.01 L280 552.9 L280.5 553.07 L281 554.85 L281.5 555.21 L282 556.8 L282.5 556.99 L283 557.81 L283.5 559.85 L284 560.51 L284.5 560.56 L285 562.32 L285.5 563.04 L286 562.94 L286.5 564.65 L287 564.32 L287.5 565.83 L288 565.62 L288.5 567.07 L289 566.5 L289.5 568.06 L290 567.56 L290.5 568.81 L291 568.06 L291.5 569.24 L292 568.73 L292.5 569.66 L293 569.12 L293.5 570 L294 569.38 L294.5 570.12 L295 569.36 L295.5 569.72 L296 568.81 L296.5 569.55 L297 568.4 L297.5 568.19 L298 568.51 L298.5 567.36 L299 567.31 L299.5 566.79 L300 566.56 L300.5 567.33 L301 566 L301.5 566.47 L302 565.05 L302.5 565.55 L303 564.22 L303.5 564.56 L304 564.07 L304.5 562.46 L305 562.74 L305.5 561.51 L306 561.66 L306.5 560.48 L307 559.87 L307.5 560.22 L308 558.64 L308.5 558.23 L309 558.6 L309.5 557.11 L310 557.33 L310.5 555.93 L311 555.57 L311.5 555.9 L312 554.46 L312.5 555.07 L313 554.64 L313.5 553.41 L314 553.65 L314.5 552.63 L315 553.04 L315.5 551.73 L316 552.37 L316.5 551.27 L317 551.14 L317.5 551.68 L318 551.37 L318.5 550.6 L319 551.37 L319.5 551.43 L320 550.65 L320.5 553.26 L321 549.05 L321.5 552.83 L322 548.75 L322.5 553.08 L323 548.85 L323.5 551.85 L324 547.68 L324.5 551.7 L325 548.45 L325.5 551.18 L326 548.67 L326.5 552.18 L327 544.94 L327.5 551.42 L328 547.21 L328.5 550.87 L329 550.78 L329.5 545.16 L330 550.93 L330.5 547.34 L331 549.7 L331.5 546.67 L332 552.71 L332.5 546.75 L333 549.96 L333.5 545.9 L334 549.67 L334.5 546.62 L335 549.18 L335.5 546.02 L336 549.16 L336.5 545.83 L337 548.75 L337.5 548.77 L338 544.53 L338.5 548.63 L339 545.03 L339.5 548.67 L340 545.41 L340.5 549.42 L341 546.74 L341.5 552.67 L342 547.03 L342.5 546.53 L343 547.33 L343.5 550.56 L344 548.99 L344.5 551.96 L345 549.09 L345.5 553.16 L346 549.58 L346.5 550.59 L347 554.61 L347.5 551.45 L348 555 L348.5 550.91 L349 554.51 L349.5 551.59 L350 553.97 L350.5 552.26 L351 554.98 L351.5 552.78 L352 556.09 L352.5 552.51 L353 555.5 L353.5 555.15 L354 552.21 L354.5 555.35 L355 552.56 L355.5 555.67 L356 552.76 L356.5 551.71 L357 555.63 L357.5 555.25 L358 552.64 L358.5 555.98 L359 551.96 L359.5 554.42 L360 551.92 L360.5 554.54 L361 552.41 L361.5 551.77 L362 555.96 L362.5 552.75 L363 552.26 L363.5 556.3 L364 552.6 L364.5 556.23 L365 555.4 L365.5 552.32 L366 555.15 L366.5 556 L367 555.2 L367.5 552.77 L368 555.15 L368.5 552.59 L369 555.35 L369.5 552.57 L370 555.42 L370.5 552.55 L371 556.07 L371.5 552.63 L372 556.05 L372.5 552.44 L373 555.6 L373.5 551.81 L374 556.27 L374.5 552.84 L375 558.2 L375.5 552.76 L376 556.22 L376.5 551.94 L377 556.16 L377.5 552.64 L378 556.23 L378.5 551.79 L379 556 L379.5 552.92 L380 556.09 L380.5 552.39 L381 556.03 L381.5 552.47 L382 555.2 L382.5 552.73 L383 552.44 L383.5 556.29 L384 552.85 L384.5 555.37 L385 553.56 L385.5 556.96 L386 553.65 L386.5 553.18 L387 557.16 L387.5 552.81 L388 555.29 L388.5 552.68 L389 556.13 L389.5 552.6 L390 556.39 L390.5 552.85 L391 555.36 L391.5 552.42 L392 555.87 L392.5 552.82 L393 555.5 L393.5 553.06 L394 555.46 L394.5 552.65 L395 552.79 L395.5 552.56 L396 555.85 L396.5 552.22 L397 555.14 L397.5 552.25 L398 551.85 L398.5 555.46 L399 552.11 L399.5 555.57 L400 552.51 L400.5 555.68 L401 552.69 L401.5 556.13 L402 552.6 L402.5 556.19 L403 552.21 L403.5 555.56 L404 552.41 L404.5 555.69 L405 552.85 L405.5 552.28 L406 558.15 L406.5 553.18 L407 556.31 L407.5 552.12 L408 556.12 L408.5 552.7 L409 556.32 L409.5 553.18 L410 555.4 L410.5 553.02 L411 556.25 L411.5 553.18 L412 556.19 L412.5 556 L413 552.31 L413.5 556.17 L414 553.22 L414.5 555.43 L415 553.07 L415.5 556.1 L416 553.28 L416.5 556.59 L417 556.49 L417.5 553.14 L418 556.65 L418.5 552.8 L419 555.92 L419.5 553.28 L420 556.47 L420.5 553.27 L421 555.83 L421.5 552.43 L422 556.06 L422.5 552.48 L423 555.84 L423.5 556 L424 554.88 L424.5 555.75 L425 552.58 L425.5 556.53 L426 554.05 L426.5 557.07 L427 552.33 L427.5 556.67 L428 553.24 L428.5 556.58 L429 552.54 L429.5 556.08 L430 552.78 L430.5 555.89 L431 552.93 L431.5 556.28 L432 552.49 L432.5 556.61 L433 552.45 L433.5 555.07 L434 552.23 L434.5 555.22 L435 552.15 L435.5 555.44 L436 551.88 L436.5 555.02 L437 552.7 L437.5 555.94 L438 550.54 L438.5 553.36 L439 556.39 L439.5 552.31 L440 556.02 L440.5 553.15 L441 553.4 L441.5 555.95 L442 551.97 L442.5 555.91 L443 553.05 L443.5 556.12 L444 552.93 L444.5 556.72 L445 556.62 L445.5 553.07 L446 552.22 L446.5 556.52 L447 553.28 L447.5 556.33 L448 552.45 L448.5 555.54 L449 553.12 L449.5 555.72" stroke="#255E91" stroke-width="2.45"/>
</g>
<line x1="59.3" y1="390.4" x2="449" y2="390.4" stroke="#000" stroke-width="1.3" />
<line x1="449" y1="390.4" x2="449" y2="675.1" stroke="#000" stroke-width="1.3" />
<line x1="59.3" y1="389.8" x2="59.3" y2="675.7" stroke="#000" stroke-width="1.3" />
<line x1="59.3" y1="675.1" x2="449.6" y2="675.1" stroke="#000" stroke-width="1.3" />
<line x1="55.5" y1="675.1" x2="59.3" y2="675.1" stroke="#000" stroke-width="1.3" />
<text transform="translate(47.8 680.1) scale(1 1.06)" font-family='"Liberation Sans", sans-serif' font-size="14.5" text-anchor="end" font-weight="normal" fill="#000" >-8</text>
<line x1="55.5" y1="643.47" x2="59.3" y2="643.47" stroke="#000" stroke-width="1.3" />
<text transform="translate(47.8 648.47) scale(1 1.06)" font-family='"Liberation Sans", sans-serif' font-size="14.5" text-anchor="end" font-weight="normal" fill="#000" >-6</text>
<line x1="55.5" y1="611.83" x2="59.3" y2="611.83" stroke="#000" stroke-width="1.3" />
<text transform="translate(47.8 616.83) scale(1 1.06)" font-family='"Liberation Sans", sans-serif' font-size="14.5" text-anchor="end" font-weight="normal" fill="#000" >-4</text>
<line x1="55.5" y1="580.2" x2="59.3" y2="580.2" stroke="#000" stroke-width="1.3" />
<text transform="translate(47.8 585.2) scale(1 1.06)" font-family='"Liberation Sans", sans-serif' font-size="14.5" text-anchor="end" font-weight="normal" fill="#000" >-2</text>
<line x1="55.5" y1="548.57" x2="59.3" y2="548.57" stroke="#000" stroke-width="1.3" />
<text transform="translate(47.8 553.57) scale(1 1.06)" font-family='"Liberation Sans", sans-serif' font-size="14.5" text-anchor="end" font-weight="normal" fill="#000" >0</text>
<line x1="55.5" y1="516.93" x2="59.3" y2="516.93" stroke="#000" stroke-width="1.3" />
<text transform="translate(47.8 521.93) scale(1 1.06)" font-family='"Liberation Sans", sans-serif' font-size="14.5" text-anchor="end" font-weight="normal" fill="#000" >2</text>
<line x1="55.5" y1="485.3" x2="59.3" y2="485.3" stroke="#000" stroke-width="1.3" />
<text transform="translate(47.8 490.3) scale(1 1.06)" font-family='"Liberation Sans", sans-serif' font-size="14.5" text-anchor="end" font-weight="normal" fill="#000" >4</text>
<line x1="55.5" y1="453.67" x2="59.3" y2="453.67" stroke="#000" stroke-width="1.3" />
<text transform="translate(47.8 458.67) scale(1 1.06)" font-family='"Liberation Sans", sans-serif' font-size="14.5" text-anchor="end" font-weight="normal" fill="#000" >6</text>
<line x1="55.5" y1="422.03" x2="59.3" y2="422.03" stroke="#000" stroke-width="1.3" />
<text transform="translate(47.8 427.03) scale(1 1.06)" font-family='"Liberation Sans", sans-serif' font-size="14.5" text-anchor="end" font-weight="normal" fill="#000" >8</text>
<line x1="55.5" y1="390.4" x2="59.3" y2="390.4" stroke="#000" stroke-width="1.3" />
<text transform="translate(47.8 395.4) scale(1 1.06)" font-family='"Liberation Sans", sans-serif' font-size="14.5" text-anchor="end" font-weight="normal" fill="#000" >10</text>
<line x1="59.3" y1="675.1" x2="59.3" y2="678.9" stroke="#000" stroke-width="1.3" />
<text transform="translate(59.6 696.8) scale(1 1.06)" font-family='"Liberation Sans", sans-serif' font-size="14.5" text-anchor="middle" font-weight="normal" fill="#000" >-1</text>
<line x1="114.97" y1="675.1" x2="114.97" y2="678.9" stroke="#000" stroke-width="1.3" />
<text transform="translate(115.27 696.8) scale(1 1.06)" font-family='"Liberation Sans", sans-serif' font-size="14.5" text-anchor="middle" font-weight="normal" fill="#000" >0</text>
<line x1="170.64" y1="675.1" x2="170.64" y2="678.9" stroke="#000" stroke-width="1.3" />
<text transform="translate(170.94 696.8) scale(1 1.06)" font-family='"Liberation Sans", sans-serif' font-size="14.5" text-anchor="middle" font-weight="normal" fill="#000" >1</text>
<line x1="226.31" y1="675.1" x2="226.31" y2="678.9" stroke="#000" stroke-width="1.3" />
<text transform="translate(226.61 696.8) scale(1 1.06)" font-family='"Liberation Sans", sans-serif' font-size="14.5" text-anchor="middle" font-weight="normal" fill="#000" >2</text>
<line x1="281.99" y1="675.1" x2="281.99" y2="678.9" stroke="#000" stroke-width="1.3" />
<text transform="translate(282.29 696.8) scale(1 1.06)" font-family='"Liberation Sans", sans-serif' font-size="14.5" text-anchor="middle" font-weight="normal" fill="#000" >3</text>
<line x1="337.66" y1="675.1" x2="337.66" y2="678.9" stroke="#000" stroke-width="1.3" />
<text transform="translate(337.96 696.8) scale(1 1.06)" font-family='"Liberation Sans", sans-serif' font-size="14.5" text-anchor="middle" font-weight="normal" fill="#000" >4</text>
<line x1="393.33" y1="675.1" x2="393.33" y2="678.9" stroke="#000" stroke-width="1.3" />
<text transform="translate(393.63 696.8) scale(1 1.06)" font-family='"Liberation Sans", sans-serif' font-size="14.5" text-anchor="middle" font-weight="normal" fill="#000" >5</text>
<line x1="449" y1="675.1" x2="449" y2="678.9" stroke="#000" stroke-width="1.3" />
<text transform="translate(449.3 696.8) scale(1 1.06)" font-family='"Liberation Sans", sans-serif' font-size="14.5" text-anchor="middle" font-weight="normal" fill="#000" >6</text>
<line x1="112.9" y1="414.4" x2="112.9" y2="675.1" stroke="#000" stroke-width="1.3" stroke-dasharray="8.9 3.7" stroke-dashoffset="-0.3"/>
<text x="0" y="0" font-family='"Liberation Sans", sans-serif' font-size="14" text-anchor="start" font-weight="normal" fill="#000" transform="translate(111.2 672.5) rotate(-90) scale(1.05 1)">Breakdown</text>
<text transform="translate(255 721) scale(1 1.1)" font-family='"Liberation Sans", sans-serif' font-size="21.5" text-anchor="middle" font-weight="normal" fill="#000" >Time (&#181;s)</text>
<text x="0" y="0" font-family='"Liberation Sans", sans-serif' font-size="21.7" text-anchor="middle" font-weight="normal" fill="#000" transform="translate(28.6 552.8) rotate(-90) scale(1 1.06)">Current (kA)</text>
<text transform="translate(9.8 388) scale(1 1.03)" font-family='"Liberation Serif", serif' font-size="23.2" text-anchor="start" font-weight="normal" fill="#000" >b)</text>
<text x="150.3" y="403" font-family='"Liberation Sans", sans-serif' font-size="14.5" text-anchor="start" font-weight="normal" fill="#000" >2.5 J</text>
<line x1="147.9" y1="396.4" x2="141.84" y2="397.04" stroke="#333" stroke-width="1.2" />
<path d="M131.9 398.1 L141.55 394.26 L142.14 399.83 Z" fill="#000"/>
<text x="150.8" y="420" font-family='"Liberation Sans", sans-serif' font-size="14.5" text-anchor="start" font-weight="normal" fill="#000" >2.0 J</text>
<line x1="147.9" y1="412.5" x2="142.64" y2="413.09" stroke="#333" stroke-width="1.2" />
<path d="M132.7 414.2 L142.33 410.31 L142.95 415.87 Z" fill="#000"/>
<text x="152" y="437.8" font-family='"Liberation Sans", sans-serif' font-size="14.5" text-anchor="start" font-weight="normal" fill="#000" >1.5 J</text>
<line x1="148.8" y1="431" x2="143.57" y2="431.41" stroke="#333" stroke-width="1.2" />
<path d="M133.6 432.2 L143.35 428.62 L143.79 434.2 Z" fill="#000"/>
<text transform="translate(152.2 459.8) scale(1 1.07)" font-family='"Liberation Sans", sans-serif' font-size="13.6" text-anchor="start" font-weight="normal" fill="#000" >1.0 J</text>
<line x1="148.8" y1="454.3" x2="143.19" y2="454.52" stroke="#333" stroke-width="1.2" />
<path d="M133.2 454.9 L143.08 451.72 L143.3 457.31 Z" fill="#000"/>
<text transform="translate(153.6 479.9) scale(1 1.07)" font-family='"Liberation Sans", sans-serif' font-size="13.6" text-anchor="start" font-weight="normal" fill="#000" >0.5 J</text>
<line x1="151.8" y1="477.3" x2="143.76" y2="480.06" stroke="#333" stroke-width="1.2" />
<path d="M134.3 483.3 L142.85 477.41 L144.67 482.71 Z" fill="#000"/>
<line x1="314.5" y1="398.2" x2="314.5" y2="484.3" stroke="#000" stroke-width="1.1" />
<line x1="314.5" y1="484.3" x2="437.6" y2="484.3" stroke="#000" stroke-width="1.1" />
<line x1="310.7" y1="484.12" x2="314.5" y2="484.12" stroke="#000" stroke-width="1.1" />
<text transform="translate(305.6 487.72) scale(1 1.05)" font-family='"Liberation Sans", sans-serif' font-size="10" text-anchor="end" font-weight="normal" fill="#333" >2</text>
<line x1="310.7" y1="462.64" x2="314.5" y2="462.64" stroke="#000" stroke-width="1.1" />
<text transform="translate(305.6 466.24) scale(1 1.05)" font-family='"Liberation Sans", sans-serif' font-size="10" text-anchor="end" font-weight="normal" fill="#333" >4</text>
<line x1="310.7" y1="441.16" x2="314.5" y2="441.16" stroke="#000" stroke-width="1.1" />
<text transform="translate(305.6 444.76) scale(1 1.05)" font-family='"Liberation Sans", sans-serif' font-size="10" text-anchor="end" font-weight="normal" fill="#333" >6</text>
<line x1="310.7" y1="419.68" x2="314.5" y2="419.68" stroke="#000" stroke-width="1.1" />
<text transform="translate(305.6 423.28) scale(1 1.05)" font-family='"Liberation Sans", sans-serif' font-size="10" text-anchor="end" font-weight="normal" fill="#333" >8</text>
<line x1="310.7" y1="398.2" x2="314.5" y2="398.2" stroke="#000" stroke-width="1.1" />
<text transform="translate(305.6 401.8) scale(1 1.05)" font-family='"Liberation Sans", sans-serif' font-size="10" text-anchor="end" font-weight="normal" fill="#333" >10</text>
<line x1="314.6" y1="484.3" x2="314.6" y2="487.8" stroke="#000" stroke-width="1.1" />
<text transform="translate(314.6 499.8) scale(1 1.05)" font-family='"Liberation Sans", sans-serif' font-size="10" text-anchor="middle" font-weight="normal" fill="#333" >0.6</text>
<line x1="339.2" y1="484.3" x2="339.2" y2="487.8" stroke="#000" stroke-width="1.1" />
<text transform="translate(339.2 499.8) scale(1 1.05)" font-family='"Liberation Sans", sans-serif' font-size="10" text-anchor="middle" font-weight="normal" fill="#333" >0.8</text>
<line x1="363.8" y1="484.3" x2="363.8" y2="487.8" stroke="#000" stroke-width="1.1" />
<text transform="translate(363.8 499.8) scale(1 1.05)" font-family='"Liberation Sans", sans-serif' font-size="10" text-anchor="middle" font-weight="normal" fill="#333" >1</text>
<line x1="388.4" y1="484.3" x2="388.4" y2="487.8" stroke="#000" stroke-width="1.1" />
<text transform="translate(388.4 499.8) scale(1 1.05)" font-family='"Liberation Sans", sans-serif' font-size="10" text-anchor="middle" font-weight="normal" fill="#333" >1.2</text>
<line x1="413" y1="484.3" x2="413" y2="487.8" stroke="#000" stroke-width="1.1" />
<text transform="translate(413 499.8) scale(1 1.05)" font-family='"Liberation Sans", sans-serif' font-size="10" text-anchor="middle" font-weight="normal" fill="#333" >1.4</text>
<line x1="437.6" y1="484.3" x2="437.6" y2="487.8" stroke="#000" stroke-width="1.1" />
<text transform="translate(437.6 499.8) scale(1 1.05)" font-family='"Liberation Sans", sans-serif' font-size="10" text-anchor="middle" font-weight="normal" fill="#333" >1.6</text>
<line x1="327.77" y1="462.43" x2="435.28" y2="404.64" stroke="#000" stroke-width="1.5" stroke-dasharray="1.5 1.8"/>
<circle cx="327.77" cy="462.43" r="4.0" fill="#3f3f3f" stroke="#262626" stroke-width="0.9"/>
<circle cx="363.8" cy="442.45" r="4.0" fill="#3f3f3f" stroke="#262626" stroke-width="0.9"/>
<circle cx="391.44" cy="429.02" r="4.0" fill="#3f3f3f" stroke="#262626" stroke-width="0.9"/>
<circle cx="414.75" cy="417" r="4.0" fill="#3f3f3f" stroke="#262626" stroke-width="0.9"/>
<circle cx="435.28" cy="404.64" r="4.0" fill="#3f3f3f" stroke="#262626" stroke-width="0.9"/>
<text transform="translate(292.6 473.5) rotate(-90)" font-family='"Liberation Sans", sans-serif' font-weight="bold" font-size="16">I<tspan font-size="11" dy="4.4">max</tspan><tspan dy="-4.4"> (kA)</tspan></text>
<text x="343.2" y="514" font-family='"Liberation Sans", sans-serif' font-weight="normal" font-size="15.5">&#8730;</text>
<text x="352" y="514.2" font-family='"Liberation Sans", sans-serif' font-weight="bold" font-size="14.8">E</text>
<text x="362.2" y="517.8" font-family='"Liberation Sans", sans-serif' font-weight="bold" font-size="10">0</text>
<text x="373.6" y="514.2" font-family='"Liberation Sans", sans-serif' font-weight="bold" font-size="14.8">(</text>
<text x="379.4" y="514.2" font-family='"Liberation Sans", sans-serif' font-weight="bold" font-size="14.8">J</text>
<text x="388" y="507.9" font-family='"Liberation Sans", sans-serif' font-weight="bold" font-size="9.8">1/2</text>
<text x="402.6" y="514.2" font-family='"Liberation Sans", sans-serif' font-weight="bold" font-size="14.8">)</text>
</svg>
</body></html>
